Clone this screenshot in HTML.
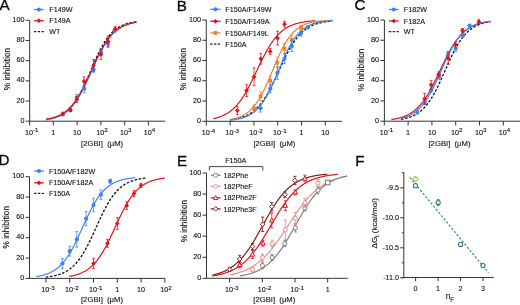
<!DOCTYPE html>
<html><head><meta charset="utf-8"><style>
html,body{margin:0;padding:0;background:#fff;}
svg{display:block;font-family:"Liberation Sans", sans-serif;}
svg{will-change:transform;}
text{stroke:#111;stroke-width:0.12px;}
</style></head><body>
<svg width="520" height="305" viewBox="0 0 520 305">
<rect width="520" height="305" fill="#fff"/>
<text x="-0.5" y="10.3" font-size="15.2" fill="#000" style="stroke-width:0.3">A</text>
<line x1="29.70" y1="20.30" x2="29.70" y2="121.20" stroke="#333" stroke-width="1" />
<line x1="25.70" y1="121.20" x2="29.70" y2="121.20" stroke="#333" stroke-width="1" />
<text x="24.40" y="122.80" font-size="7.2" text-anchor="end" fill="#111" >0</text>
<line x1="25.70" y1="101.02" x2="29.70" y2="101.02" stroke="#333" stroke-width="1" />
<text x="24.40" y="102.62" font-size="7.2" text-anchor="end" fill="#111" >20</text>
<line x1="25.70" y1="80.84" x2="29.70" y2="80.84" stroke="#333" stroke-width="1" />
<text x="24.40" y="82.44" font-size="7.2" text-anchor="end" fill="#111" >40</text>
<line x1="25.70" y1="60.66" x2="29.70" y2="60.66" stroke="#333" stroke-width="1" />
<text x="24.40" y="62.26" font-size="7.2" text-anchor="end" fill="#111" >60</text>
<line x1="25.70" y1="40.48" x2="29.70" y2="40.48" stroke="#333" stroke-width="1" />
<text x="24.40" y="42.08" font-size="7.2" text-anchor="end" fill="#111" >80</text>
<line x1="25.70" y1="20.30" x2="29.70" y2="20.30" stroke="#333" stroke-width="1" />
<text x="24.40" y="21.90" font-size="7.2" text-anchor="end" fill="#111" >100</text>
<line x1="29.70" y1="121.20" x2="165.20" y2="121.20" stroke="#333" stroke-width="1" />
<line x1="29.60" y1="121.20" x2="29.60" y2="125.40" stroke="#333" stroke-width="1" />
<text x="25.00" y="135.10" font-size="7.2" fill="#111">10<tspan font-size="6.2" dy="-2.7">-1</tspan></text>
<line x1="53.36" y1="121.20" x2="53.36" y2="125.40" stroke="#333" stroke-width="1" />
<text x="53.36" y="135.10" font-size="7.2" text-anchor="middle" fill="#111" >1</text>
<line x1="77.12" y1="121.20" x2="77.12" y2="125.40" stroke="#333" stroke-width="1" />
<text x="77.12" y="135.10" font-size="7.2" text-anchor="middle" fill="#111" >10</text>
<line x1="100.88" y1="121.20" x2="100.88" y2="125.40" stroke="#333" stroke-width="1" />
<text x="96.28" y="135.10" font-size="7.2" fill="#111">10<tspan font-size="6.2" dy="-2.7">2</tspan></text>
<line x1="124.64" y1="121.20" x2="124.64" y2="125.40" stroke="#333" stroke-width="1" />
<text x="120.04" y="135.10" font-size="7.2" fill="#111">10<tspan font-size="6.2" dy="-2.7">3</tspan></text>
<line x1="148.40" y1="121.20" x2="148.40" y2="125.40" stroke="#333" stroke-width="1" />
<text x="143.80" y="135.10" font-size="7.2" fill="#111">10<tspan font-size="6.2" dy="-2.7">4</tspan></text>
<text x="102.10" y="145.50" font-size="7.7" text-anchor="middle" fill="#111" >[2GBI]&#160;&#160;(μM)</text>
<text x="0" y="0" font-size="8.3" text-anchor="middle" fill="#111" transform="translate(9.90,69.00) rotate(-90)">% inhibition</text>
<line x1="33.90" y1="9.60" x2="43.80" y2="9.60" stroke="#3f82f0" stroke-width="1.25" />
<circle cx="38.85" cy="9.60" r="2.1" fill="#3f82f0" stroke="#3f82f0" stroke-width="0"/>
<text x="49.30" y="12.20" font-size="7.2" text-anchor="start" fill="#111" >F149W</text>
<line x1="33.90" y1="20.70" x2="43.80" y2="20.70" stroke="#e0121c" stroke-width="1.25" />
<path d="M38.85,18.35 L41.20,20.70 L38.85,23.05 L36.50,20.70Z" fill="#e0121c" stroke="#e0121c" stroke-width="0"/>
<text x="49.30" y="23.30" font-size="7.2" text-anchor="start" fill="#111" >F149A</text>
<line x1="33.90" y1="31.70" x2="43.80" y2="31.70" stroke="#222" stroke-width="1.2" stroke-dasharray="2.4,1.4"/>
<text x="49.30" y="34.30" font-size="7.2" text-anchor="start" fill="#111" >WT</text>
<path d="M46.00,119.64 L46.50,119.57 L47.00,119.49 L47.50,119.41 L48.00,119.33 L48.50,119.24 L49.00,119.15 L49.50,119.06 L50.00,118.96 L50.50,118.85 L51.00,118.74 L51.50,118.63 L52.00,118.51 L52.50,118.39 L53.00,118.26 L53.50,118.12 L54.00,117.98 L54.50,117.83 L55.00,117.67 L55.50,117.51 L56.00,117.34 L56.50,117.17 L57.00,116.98 L57.50,116.79 L58.00,116.59 L58.50,116.38 L59.00,116.17 L59.50,115.94 L60.00,115.70 L60.50,115.46 L61.00,115.20 L61.50,114.93 L62.00,114.65 L62.50,114.36 L63.00,114.06 L63.50,113.74 L64.00,113.42 L64.50,113.08 L65.00,112.72 L65.50,112.35 L66.00,111.97 L66.50,111.58 L67.00,111.16 L67.50,110.73 L68.00,110.29 L68.50,109.83 L69.00,109.35 L69.50,108.86 L70.00,108.35 L70.50,107.82 L71.00,107.27 L71.50,106.70 L72.00,106.11 L72.50,105.51 L73.00,104.88 L73.50,104.23 L74.00,103.57 L74.50,102.88 L75.00,102.17 L75.50,101.45 L76.00,100.70 L76.50,99.93 L77.00,99.14 L77.50,98.33 L78.00,97.49 L78.50,96.64 L79.00,95.77 L79.50,94.87 L80.00,93.96 L80.50,93.02 L81.00,92.07 L81.50,91.10 L82.00,90.11 L82.50,89.10 L83.00,88.07 L83.50,87.03 L84.00,85.97 L84.50,84.90 L85.00,83.81 L85.50,82.71 L86.00,81.60 L86.50,80.47 L87.00,79.34 L87.50,78.20 L88.00,77.05 L88.50,75.89 L89.00,74.73 L89.50,73.56 L90.00,72.39 L90.50,71.22 L91.00,70.05 L91.50,68.88 L92.00,67.71 L92.50,66.54 L93.00,65.38 L93.50,64.22 L94.00,63.07 L94.50,61.93 L95.00,60.80 L95.50,59.68 L96.00,58.57 L96.50,57.47 L97.00,56.39 L97.50,55.32 L98.00,54.26 L98.50,53.22 L99.00,52.20 L99.50,51.19 L100.00,50.21 L100.50,49.24 L101.00,48.29 L101.50,47.36 L102.00,46.45 L102.50,45.56 L103.00,44.69 L103.50,43.84 L104.00,43.01 L104.50,42.20 L105.00,41.42 L105.50,40.65 L106.00,39.91 L106.50,39.18 L107.00,38.48 L107.50,37.80 L108.00,37.14 L108.50,36.49 L109.00,35.87 L109.50,35.27 L110.00,34.69 L110.50,34.12 L111.00,33.58 L111.50,33.05 L112.00,32.54 L112.50,32.05 L113.00,31.58 L113.50,31.12 L114.00,30.68 L114.50,30.25 L115.00,29.84 L115.50,29.45 L116.00,29.07 L116.50,28.71 L117.00,28.35 L117.50,28.02 L118.00,27.69 L118.50,27.38 L119.00,27.08 L119.50,26.79 L120.00,26.51 L120.50,26.25 L121.00,25.99 L121.50,25.75 L122.00,25.52 L122.50,25.29 L123.00,25.07 L123.50,24.87 L124.00,24.67 L124.50,24.48 L125.00,24.30 L125.50,24.12 L126.00,23.95 L126.50,23.79 L127.00,23.64 L127.50,23.49 L128.00,23.35 L128.50,23.22 L129.00,23.09 L129.50,22.97 L130.00,22.85 L130.50,22.74 L131.00,22.63 L131.50,22.52 L132.00,22.43 L132.50,22.33 L133.00,22.24 L133.50,22.15 L134.00,22.07 L134.50,21.99 L135.00,21.92 L135.50,21.84 L136.00,21.77 L136.50,21.71" fill="none" stroke="#111" stroke-width="1.3" stroke-dasharray="2.6,1.6"/>
<path d="M46.00,119.52 L46.50,119.45 L47.00,119.37 L47.50,119.29 L48.00,119.20 L48.50,119.11 L49.00,119.02 L49.50,118.92 L50.00,118.82 L50.50,118.72 L51.00,118.61 L51.50,118.49 L52.00,118.37 L52.50,118.25 L53.00,118.11 L53.50,117.98 L54.00,117.84 L54.50,117.69 L55.00,117.53 L55.50,117.37 L56.00,117.21 L56.50,117.03 L57.00,116.85 L57.50,116.66 L58.00,116.46 L58.50,116.26 L59.00,116.05 L59.50,115.82 L60.00,115.59 L60.50,115.35 L61.00,115.10 L61.50,114.84 L62.00,114.57 L62.50,114.29 L63.00,114.00 L63.50,113.69 L64.00,113.38 L64.50,113.05 L65.00,112.71 L65.50,112.36 L66.00,111.99 L66.50,111.61 L67.00,111.22 L67.50,110.81 L68.00,110.39 L68.50,109.95 L69.00,109.50 L69.50,109.03 L70.00,108.54 L70.50,108.04 L71.00,107.52 L71.50,106.99 L72.00,106.44 L72.50,105.87 L73.00,105.28 L73.50,104.67 L74.00,104.05 L74.50,103.40 L75.00,102.74 L75.50,102.06 L76.00,101.36 L76.50,100.64 L77.00,99.90 L77.50,99.14 L78.00,98.37 L78.50,97.57 L79.00,96.75 L79.50,95.92 L80.00,95.07 L80.50,94.20 L81.00,93.31 L81.50,92.40 L82.00,91.47 L82.50,90.53 L83.00,89.57 L83.50,88.60 L84.00,87.60 L84.50,86.60 L85.00,85.58 L85.50,84.55 L86.00,83.50 L86.50,82.44 L87.00,81.37 L87.50,80.30 L88.00,79.21 L88.50,78.11 L89.00,77.01 L89.50,75.90 L90.00,74.79 L90.50,73.67 L91.00,72.55 L91.50,71.42 L92.00,70.30 L92.50,69.18 L93.00,68.06 L93.50,66.94 L94.00,65.82 L94.50,64.71 L95.00,63.61 L95.50,62.51 L96.00,61.42 L96.50,60.34 L97.00,59.27 L97.50,58.21 L98.00,57.16 L98.50,56.13 L99.00,55.10 L99.50,54.10 L100.00,53.10 L100.50,52.12 L101.00,51.16 L101.50,50.22 L102.00,49.29 L102.50,48.37 L103.00,47.48 L103.50,46.61 L104.00,45.75 L104.50,44.91 L105.00,44.09 L105.50,43.29 L106.00,42.51 L106.50,41.75 L107.00,41.01 L107.50,40.28 L108.00,39.58 L108.50,38.89 L109.00,38.23 L109.50,37.58 L110.00,36.95 L110.50,36.34 L111.00,35.75 L111.50,35.18 L112.00,34.62 L112.50,34.08 L113.00,33.56 L113.50,33.05 L114.00,32.57 L114.50,32.09 L115.00,31.64 L115.50,31.20 L116.00,30.77 L116.50,30.36 L117.00,29.97 L117.50,29.58 L118.00,29.21 L118.50,28.86 L119.00,28.52 L119.50,28.19 L120.00,27.87 L120.50,27.56 L121.00,27.27 L121.50,26.98 L122.00,26.71 L122.50,26.45 L123.00,26.20 L123.50,25.96 L124.00,25.72 L124.50,25.50 L125.00,25.28 L125.50,25.08 L126.00,24.88 L126.50,24.69 L127.00,24.50 L127.50,24.33 L128.00,24.16 L128.50,24.00 L129.00,23.84 L129.50,23.69 L130.00,23.55 L130.50,23.41 L131.00,23.28 L131.50,23.15 L132.00,23.03 L132.50,22.92 L133.00,22.81 L133.50,22.70 L134.00,22.60 L134.50,22.50 L135.00,22.41 L135.50,22.32 L136.00,22.23 L136.50,22.15" fill="none" stroke="#3f82f0" stroke-width="1.2" />
<path d="M46.00,119.27 L46.50,119.19 L47.00,119.10 L47.50,119.01 L48.00,118.91 L48.50,118.82 L49.00,118.71 L49.50,118.60 L50.00,118.49 L50.50,118.37 L51.00,118.25 L51.50,118.12 L52.00,117.99 L52.50,117.85 L53.00,117.71 L53.50,117.56 L54.00,117.40 L54.50,117.24 L55.00,117.07 L55.50,116.90 L56.00,116.71 L56.50,116.52 L57.00,116.32 L57.50,116.12 L58.00,115.90 L58.50,115.68 L59.00,115.45 L59.50,115.21 L60.00,114.96 L60.50,114.70 L61.00,114.43 L61.50,114.15 L62.00,113.86 L62.50,113.55 L63.00,113.24 L63.50,112.91 L64.00,112.58 L64.50,112.23 L65.00,111.86 L65.50,111.49 L66.00,111.10 L66.50,110.70 L67.00,110.28 L67.50,109.85 L68.00,109.40 L68.50,108.94 L69.00,108.46 L69.50,107.97 L70.00,107.46 L70.50,106.94 L71.00,106.39 L71.50,105.83 L72.00,105.26 L72.50,104.66 L73.00,104.05 L73.50,103.42 L74.00,102.78 L74.50,102.11 L75.00,101.43 L75.50,100.73 L76.00,100.01 L76.50,99.27 L77.00,98.51 L77.50,97.73 L78.00,96.94 L78.50,96.13 L79.00,95.30 L79.50,94.45 L80.00,93.59 L80.50,92.70 L81.00,91.80 L81.50,90.89 L82.00,89.96 L82.50,89.01 L83.00,88.05 L83.50,87.07 L84.00,86.08 L84.50,85.07 L85.00,84.06 L85.50,83.03 L86.00,81.99 L86.50,80.94 L87.00,79.88 L87.50,78.81 L88.00,77.74 L88.50,76.66 L89.00,75.57 L89.50,74.48 L90.00,73.39 L90.50,72.29 L91.00,71.19 L91.50,70.09 L92.00,68.99 L92.50,67.90 L93.00,66.80 L93.50,65.71 L94.00,64.63 L94.50,63.55 L95.00,62.47 L95.50,61.41 L96.00,60.35 L96.50,59.30 L97.00,58.26 L97.50,57.24 L98.00,56.22 L98.50,55.22 L99.00,54.23 L99.50,53.26 L100.00,52.30 L100.50,51.36 L101.00,50.43 L101.50,49.51 L102.00,48.62 L102.50,47.74 L103.00,46.88 L103.50,46.03 L104.00,45.21 L104.50,44.40 L105.00,43.61 L105.50,42.84 L106.00,42.08 L106.50,41.35 L107.00,40.63 L107.50,39.93 L108.00,39.25 L108.50,38.59 L109.00,37.95 L109.50,37.32 L110.00,36.72 L110.50,36.13 L111.00,35.55 L111.50,35.00 L112.00,34.46 L112.50,33.94 L113.00,33.43 L113.50,32.94 L114.00,32.47 L114.50,32.01 L115.00,31.56 L115.50,31.14 L116.00,30.72 L116.50,30.32 L117.00,29.94 L117.50,29.56 L118.00,29.20 L118.50,28.85 L119.00,28.52 L119.50,28.20 L120.00,27.89 L120.50,27.59 L121.00,27.30 L121.50,27.02 L122.00,26.75 L122.50,26.49 L123.00,26.24 L123.50,26.00 L124.00,25.77 L124.50,25.55 L125.00,25.34 L125.50,25.14 L126.00,24.94 L126.50,24.75 L127.00,24.57 L127.50,24.39 L128.00,24.23 L128.50,24.06 L129.00,23.91 L129.50,23.76 L130.00,23.62 L130.50,23.48 L131.00,23.35 L131.50,23.22 L132.00,23.10 L132.50,22.99 L133.00,22.87 L133.50,22.77 L134.00,22.66 L134.50,22.57 L135.00,22.47 L135.50,22.38 L136.00,22.29 L136.50,22.21" fill="none" stroke="#e0121c" stroke-width="1.2" />
<line x1="62.80" y1="113.50" x2="62.80" y2="115.50" stroke="#3f82f0" stroke-width="0.8" />
<line x1="61.40" y1="113.50" x2="64.20" y2="113.50" stroke="#3f82f0" stroke-width="0.8" />
<line x1="61.40" y1="115.50" x2="64.20" y2="115.50" stroke="#3f82f0" stroke-width="0.8" />
<circle cx="62.80" cy="114.50" r="2.1" fill="#3f82f0" stroke="#3f82f0" stroke-width="0"/>
<line x1="70.40" y1="109.50" x2="70.40" y2="111.50" stroke="#3f82f0" stroke-width="0.8" />
<line x1="69.00" y1="109.50" x2="71.80" y2="109.50" stroke="#3f82f0" stroke-width="0.8" />
<line x1="69.00" y1="111.50" x2="71.80" y2="111.50" stroke="#3f82f0" stroke-width="0.8" />
<circle cx="70.40" cy="110.50" r="2.1" fill="#3f82f0" stroke="#3f82f0" stroke-width="0"/>
<line x1="76.80" y1="94.50" x2="76.80" y2="100.50" stroke="#3f82f0" stroke-width="0.8" />
<line x1="75.40" y1="94.50" x2="78.20" y2="94.50" stroke="#3f82f0" stroke-width="0.8" />
<line x1="75.40" y1="100.50" x2="78.20" y2="100.50" stroke="#3f82f0" stroke-width="0.8" />
<circle cx="76.80" cy="97.50" r="2.1" fill="#3f82f0" stroke="#3f82f0" stroke-width="0"/>
<line x1="84.30" y1="84.70" x2="84.30" y2="92.70" stroke="#3f82f0" stroke-width="0.8" />
<line x1="82.90" y1="84.70" x2="85.70" y2="84.70" stroke="#3f82f0" stroke-width="0.8" />
<line x1="82.90" y1="92.70" x2="85.70" y2="92.70" stroke="#3f82f0" stroke-width="0.8" />
<circle cx="84.30" cy="88.70" r="2.1" fill="#3f82f0" stroke="#3f82f0" stroke-width="0"/>
<line x1="93.50" y1="66.30" x2="93.50" y2="72.30" stroke="#3f82f0" stroke-width="0.8" />
<line x1="92.10" y1="66.30" x2="94.90" y2="66.30" stroke="#3f82f0" stroke-width="0.8" />
<line x1="92.10" y1="72.30" x2="94.90" y2="72.30" stroke="#3f82f0" stroke-width="0.8" />
<circle cx="93.50" cy="69.30" r="2.1" fill="#3f82f0" stroke="#3f82f0" stroke-width="0"/>
<line x1="101.00" y1="49.20" x2="101.00" y2="55.20" stroke="#3f82f0" stroke-width="0.8" />
<line x1="99.60" y1="49.20" x2="102.40" y2="49.20" stroke="#3f82f0" stroke-width="0.8" />
<line x1="99.60" y1="55.20" x2="102.40" y2="55.20" stroke="#3f82f0" stroke-width="0.8" />
<circle cx="101.00" cy="52.20" r="2.1" fill="#3f82f0" stroke="#3f82f0" stroke-width="0"/>
<line x1="108.00" y1="40.70" x2="108.00" y2="46.70" stroke="#3f82f0" stroke-width="0.8" />
<line x1="106.60" y1="40.70" x2="109.40" y2="40.70" stroke="#3f82f0" stroke-width="0.8" />
<line x1="106.60" y1="46.70" x2="109.40" y2="46.70" stroke="#3f82f0" stroke-width="0.8" />
<circle cx="108.00" cy="43.70" r="2.1" fill="#3f82f0" stroke="#3f82f0" stroke-width="0"/>
<line x1="114.40" y1="29.50" x2="114.40" y2="32.50" stroke="#3f82f0" stroke-width="0.8" />
<line x1="113.00" y1="29.50" x2="115.80" y2="29.50" stroke="#3f82f0" stroke-width="0.8" />
<line x1="113.00" y1="32.50" x2="115.80" y2="32.50" stroke="#3f82f0" stroke-width="0.8" />
<circle cx="114.40" cy="31.00" r="2.1" fill="#3f82f0" stroke="#3f82f0" stroke-width="0"/>
<line x1="62.80" y1="112.30" x2="62.80" y2="115.30" stroke="#e0121c" stroke-width="0.8" />
<line x1="61.40" y1="112.30" x2="64.20" y2="112.30" stroke="#e0121c" stroke-width="0.8" />
<line x1="61.40" y1="115.30" x2="64.20" y2="115.30" stroke="#e0121c" stroke-width="0.8" />
<path d="M62.80,111.45 L65.15,113.80 L62.80,116.15 L60.45,113.80Z" fill="#e0121c" stroke="#e0121c" stroke-width="0"/>
<line x1="70.40" y1="108.50" x2="70.40" y2="111.50" stroke="#e0121c" stroke-width="0.8" />
<line x1="69.00" y1="108.50" x2="71.80" y2="108.50" stroke="#e0121c" stroke-width="0.8" />
<line x1="69.00" y1="111.50" x2="71.80" y2="111.50" stroke="#e0121c" stroke-width="0.8" />
<path d="M70.40,107.65 L72.75,110.00 L70.40,112.35 L68.05,110.00Z" fill="#e0121c" stroke="#e0121c" stroke-width="0"/>
<line x1="76.80" y1="96.40" x2="76.80" y2="102.40" stroke="#e0121c" stroke-width="0.8" />
<line x1="75.40" y1="96.40" x2="78.20" y2="96.40" stroke="#e0121c" stroke-width="0.8" />
<line x1="75.40" y1="102.40" x2="78.20" y2="102.40" stroke="#e0121c" stroke-width="0.8" />
<path d="M76.80,97.05 L79.15,99.40 L76.80,101.75 L74.45,99.40Z" fill="#e0121c" stroke="#e0121c" stroke-width="0"/>
<line x1="84.00" y1="76.80" x2="84.00" y2="85.80" stroke="#e0121c" stroke-width="0.8" />
<line x1="82.60" y1="76.80" x2="85.40" y2="76.80" stroke="#e0121c" stroke-width="0.8" />
<line x1="82.60" y1="85.80" x2="85.40" y2="85.80" stroke="#e0121c" stroke-width="0.8" />
<path d="M84.00,78.95 L86.35,81.30 L84.00,83.65 L81.65,81.30Z" fill="#e0121c" stroke="#e0121c" stroke-width="0"/>
<line x1="93.50" y1="59.40" x2="93.50" y2="71.40" stroke="#e0121c" stroke-width="0.8" />
<line x1="92.10" y1="59.40" x2="94.90" y2="59.40" stroke="#e0121c" stroke-width="0.8" />
<line x1="92.10" y1="71.40" x2="94.90" y2="71.40" stroke="#e0121c" stroke-width="0.8" />
<path d="M93.50,63.05 L95.85,65.40 L93.50,67.75 L91.15,65.40Z" fill="#e0121c" stroke="#e0121c" stroke-width="0"/>
<line x1="101.00" y1="49.40" x2="101.00" y2="59.40" stroke="#e0121c" stroke-width="0.8" />
<line x1="99.60" y1="49.40" x2="102.40" y2="49.40" stroke="#e0121c" stroke-width="0.8" />
<line x1="99.60" y1="59.40" x2="102.40" y2="59.40" stroke="#e0121c" stroke-width="0.8" />
<path d="M101.00,52.05 L103.35,54.40 L101.00,56.75 L98.65,54.40Z" fill="#e0121c" stroke="#e0121c" stroke-width="0"/>
<line x1="108.00" y1="36.10" x2="108.00" y2="47.10" stroke="#e0121c" stroke-width="0.8" />
<line x1="106.60" y1="36.10" x2="109.40" y2="36.10" stroke="#e0121c" stroke-width="0.8" />
<line x1="106.60" y1="47.10" x2="109.40" y2="47.10" stroke="#e0121c" stroke-width="0.8" />
<path d="M108.00,39.25 L110.35,41.60 L108.00,43.95 L105.65,41.60Z" fill="#e0121c" stroke="#e0121c" stroke-width="0"/>
<line x1="115.20" y1="26.80" x2="115.20" y2="30.80" stroke="#e0121c" stroke-width="0.8" />
<line x1="113.80" y1="26.80" x2="116.60" y2="26.80" stroke="#e0121c" stroke-width="0.8" />
<line x1="113.80" y1="30.80" x2="116.60" y2="30.80" stroke="#e0121c" stroke-width="0.8" />
<path d="M115.20,26.45 L117.55,28.80 L115.20,31.15 L112.85,28.80Z" fill="#e0121c" stroke="#e0121c" stroke-width="0"/>
<text x="176.7" y="10.6" font-size="15.2" fill="#000" style="stroke-width:0.3">B</text>
<line x1="206.30" y1="20.00" x2="206.30" y2="121.30" stroke="#333" stroke-width="1" />
<line x1="202.30" y1="121.30" x2="206.30" y2="121.30" stroke="#333" stroke-width="1" />
<text x="201.00" y="122.90" font-size="7.2" text-anchor="end" fill="#111" >0</text>
<line x1="202.30" y1="101.04" x2="206.30" y2="101.04" stroke="#333" stroke-width="1" />
<text x="201.00" y="102.64" font-size="7.2" text-anchor="end" fill="#111" >20</text>
<line x1="202.30" y1="80.78" x2="206.30" y2="80.78" stroke="#333" stroke-width="1" />
<text x="201.00" y="82.38" font-size="7.2" text-anchor="end" fill="#111" >40</text>
<line x1="202.30" y1="60.52" x2="206.30" y2="60.52" stroke="#333" stroke-width="1" />
<text x="201.00" y="62.12" font-size="7.2" text-anchor="end" fill="#111" >60</text>
<line x1="202.30" y1="40.26" x2="206.30" y2="40.26" stroke="#333" stroke-width="1" />
<text x="201.00" y="41.86" font-size="7.2" text-anchor="end" fill="#111" >80</text>
<line x1="202.30" y1="20.00" x2="206.30" y2="20.00" stroke="#333" stroke-width="1" />
<text x="201.00" y="21.60" font-size="7.2" text-anchor="end" fill="#111" >100</text>
<line x1="206.30" y1="121.30" x2="342.00" y2="121.30" stroke="#333" stroke-width="1" />
<line x1="206.30" y1="121.30" x2="206.30" y2="125.50" stroke="#333" stroke-width="1" />
<text x="201.70" y="135.20" font-size="7.2" fill="#111">10<tspan font-size="6.2" dy="-2.7">-4</tspan></text>
<line x1="230.10" y1="121.30" x2="230.10" y2="125.50" stroke="#333" stroke-width="1" />
<text x="225.50" y="135.20" font-size="7.2" fill="#111">10<tspan font-size="6.2" dy="-2.7">-3</tspan></text>
<line x1="253.90" y1="121.30" x2="253.90" y2="125.50" stroke="#333" stroke-width="1" />
<text x="249.30" y="135.20" font-size="7.2" fill="#111">10<tspan font-size="6.2" dy="-2.7">-2</tspan></text>
<line x1="277.70" y1="121.30" x2="277.70" y2="125.50" stroke="#333" stroke-width="1" />
<text x="273.10" y="135.20" font-size="7.2" fill="#111">10<tspan font-size="6.2" dy="-2.7">-1</tspan></text>
<line x1="301.50" y1="121.30" x2="301.50" y2="125.50" stroke="#333" stroke-width="1" />
<text x="301.50" y="135.20" font-size="7.2" text-anchor="middle" fill="#111" >1</text>
<line x1="325.30" y1="121.30" x2="325.30" y2="125.50" stroke="#333" stroke-width="1" />
<text x="325.30" y="135.20" font-size="7.2" text-anchor="middle" fill="#111" >10</text>
<text x="274.40" y="145.50" font-size="7.7" text-anchor="middle" fill="#111" >[2GBI]&#160;&#160;(μM)</text>
<text x="0" y="0" font-size="8.3" text-anchor="middle" fill="#111" transform="translate(185.80,69.00) rotate(-90)">% inhibition</text>
<line x1="210.20" y1="9.30" x2="220.60" y2="9.30" stroke="#3f82f0" stroke-width="1.25" />
<circle cx="215.40" cy="9.30" r="2.1" fill="#3f82f0" stroke="#3f82f0" stroke-width="0"/>
<text x="225.30" y="11.90" font-size="7.2" text-anchor="start" fill="#111" >F150A/F149W</text>
<line x1="210.20" y1="21.30" x2="220.60" y2="21.30" stroke="#e0121c" stroke-width="1.25" />
<path d="M215.40,18.95 L217.75,21.30 L215.40,23.65 L213.05,21.30Z" fill="#e0121c" stroke="#e0121c" stroke-width="0"/>
<text x="225.30" y="23.90" font-size="7.2" text-anchor="start" fill="#111" >F150A/F149A</text>
<line x1="210.20" y1="32.90" x2="220.60" y2="32.90" stroke="#e8862e" stroke-width="1.25" />
<rect x="213.51" y="31.01" width="3.78" height="3.78" fill="#e8862e" stroke="#e8862e" stroke-width="0"/>
<text x="225.30" y="35.50" font-size="7.2" text-anchor="start" fill="#111" >F150A/F149L</text>
<line x1="210.20" y1="44.20" x2="220.60" y2="44.20" stroke="#222" stroke-width="1.2" stroke-dasharray="2.4,1.4"/>
<text x="225.30" y="46.80" font-size="7.2" text-anchor="start" fill="#111" >F150A</text>
<path d="M213.40,118.63 L213.90,118.52 L214.40,118.41 L214.90,118.29 L215.40,118.17 L215.90,118.04 L216.40,117.90 L216.90,117.76 L217.40,117.62 L217.90,117.47 L218.40,117.31 L218.90,117.15 L219.40,116.98 L219.90,116.81 L220.40,116.62 L220.90,116.44 L221.40,116.24 L221.90,116.04 L222.40,115.82 L222.90,115.60 L223.40,115.38 L223.90,115.14 L224.40,114.90 L224.90,114.64 L225.40,114.38 L225.90,114.10 L226.40,113.82 L226.90,113.53 L227.40,113.22 L227.90,112.91 L228.40,112.58 L228.90,112.25 L229.40,111.90 L229.90,111.54 L230.40,111.16 L230.90,110.78 L231.40,110.38 L231.90,109.97 L232.40,109.54 L232.90,109.10 L233.40,108.65 L233.90,108.18 L234.40,107.70 L234.90,107.20 L235.40,106.69 L235.90,106.16 L236.40,105.62 L236.90,105.06 L237.40,104.48 L237.90,103.89 L238.40,103.28 L238.90,102.66 L239.40,102.02 L239.90,101.36 L240.40,100.68 L240.90,99.99 L241.40,99.28 L241.90,98.56 L242.40,97.82 L242.90,97.06 L243.40,96.28 L243.90,95.49 L244.40,94.68 L244.90,93.86 L245.40,93.02 L245.90,92.16 L246.40,91.29 L246.90,90.41 L247.40,89.51 L247.90,88.59 L248.40,87.66 L248.90,86.72 L249.40,85.77 L249.90,84.80 L250.40,83.83 L250.90,82.84 L251.40,81.84 L251.90,80.83 L252.40,79.82 L252.90,78.80 L253.40,77.77 L253.90,76.73 L254.40,75.69 L254.90,74.65 L255.40,73.60 L255.90,72.55 L256.40,71.49 L256.90,70.44 L257.40,69.39 L257.90,68.33 L258.40,67.28 L258.90,66.24 L259.40,65.19 L259.90,64.15 L260.40,63.12 L260.90,62.09 L261.40,61.07 L261.90,60.06 L262.40,59.06 L262.90,58.07 L263.40,57.08 L263.90,56.11 L264.40,55.15 L264.90,54.20 L265.40,53.26 L265.90,52.34 L266.40,51.43 L266.90,50.54 L267.40,49.66 L267.90,48.79 L268.40,47.94 L268.90,47.11 L269.40,46.29 L269.90,45.49 L270.40,44.70 L270.90,43.94 L271.40,43.18 L271.90,42.45 L272.40,41.73 L272.90,41.03 L273.40,40.34 L273.90,39.68 L274.40,39.02 L274.90,38.39 L275.40,37.77 L275.90,37.17 L276.40,36.59 L276.90,36.02 L277.40,35.46 L277.90,34.93 L278.40,34.40 L278.90,33.90 L279.40,33.41 L279.90,32.93 L280.40,32.47 L280.90,32.02 L281.40,31.59 L281.90,31.17 L282.40,30.76 L282.90,30.37 L283.40,29.99 L283.90,29.62 L284.40,29.26 L284.90,28.92 L285.40,28.58 L285.90,28.26 L286.40,27.95 L286.90,27.65 L287.40,27.36 L287.90,27.08 L288.40,26.82 L288.90,26.56 L289.40,26.31 L289.90,26.06 L290.40,25.83 L290.90,25.61 L291.40,25.39 L291.90,25.18 L292.40,24.98 L292.90,24.79 L293.40,24.60 L293.90,24.42 L294.40,24.25 L294.90,24.08 L295.40,23.92 L295.90,23.77 L296.40,23.62 L296.90,23.48 L297.40,23.34 L297.90,23.21 L298.40,23.08 L298.90,22.96 L299.40,22.84 L299.90,22.73 L300.40,22.62 L300.90,22.52 L301.40,22.42 L301.90,22.32 L302.40,22.23 L302.90,22.14 L303.40,22.06 L303.90,21.97 L304.40,21.89 L304.90,21.82 L305.40,21.75 L305.90,21.68 L306.40,21.61 L306.90,21.54 L307.40,21.48 L307.90,21.42 L308.40,21.37 L308.90,21.31 L309.40,21.26 L309.90,21.21 L310.40,21.16 L310.90,21.11 L311.40,21.07 L311.90,21.02 L312.40,20.98 L312.90,20.94 L313.40,20.90 L313.90,20.87 L314.40,20.83 L314.90,20.80 L315.40,20.77" fill="none" stroke="#e0121c" stroke-width="1.2" />
<path d="M230.00,119.83 L230.50,119.77 L231.00,119.70 L231.50,119.63 L232.00,119.56 L232.50,119.48 L233.00,119.41 L233.50,119.32 L234.00,119.24 L234.50,119.15 L235.00,119.06 L235.50,118.96 L236.00,118.86 L236.50,118.76 L237.00,118.65 L237.50,118.53 L238.00,118.42 L238.50,118.29 L239.00,118.17 L239.50,118.03 L240.00,117.89 L240.50,117.75 L241.00,117.60 L241.50,117.44 L242.00,117.28 L242.50,117.11 L243.00,116.93 L243.50,116.75 L244.00,116.56 L244.50,116.36 L245.00,116.15 L245.50,115.94 L246.00,115.72 L246.50,115.48 L247.00,115.24 L247.50,114.99 L248.00,114.73 L248.50,114.47 L249.00,114.19 L249.50,113.90 L250.00,113.59 L250.50,113.28 L251.00,112.96 L251.50,112.62 L252.00,112.28 L252.50,111.92 L253.00,111.54 L253.50,111.16 L254.00,110.76 L254.50,110.34 L255.00,109.91 L255.50,109.47 L256.00,109.01 L256.50,108.54 L257.00,108.05 L257.50,107.55 L258.00,107.03 L258.50,106.50 L259.00,105.94 L259.50,105.37 L260.00,104.79 L260.50,104.18 L261.00,103.56 L261.50,102.92 L262.00,102.27 L262.50,101.59 L263.00,100.90 L263.50,100.19 L264.00,99.46 L264.50,98.71 L265.00,97.95 L265.50,97.17 L266.00,96.37 L266.50,95.55 L267.00,94.71 L267.50,93.86 L268.00,92.99 L268.50,92.10 L269.00,91.20 L269.50,90.28 L270.00,89.35 L270.50,88.40 L271.00,87.44 L271.50,86.46 L272.00,85.47 L272.50,84.47 L273.00,83.45 L273.50,82.42 L274.00,81.39 L274.50,80.34 L275.00,79.29 L275.50,78.22 L276.00,77.16 L276.50,76.08 L277.00,75.00 L277.50,73.92 L278.00,72.83 L278.50,71.74 L279.00,70.65 L279.50,69.56 L280.00,68.47 L280.50,67.38 L281.00,66.30 L281.50,65.22 L282.00,64.14 L282.50,63.08 L283.00,62.01 L283.50,60.96 L284.00,59.91 L284.50,58.88 L285.00,57.85 L285.50,56.83 L286.00,55.83 L286.50,54.84 L287.00,53.86 L287.50,52.90 L288.00,51.95 L288.50,51.02 L289.00,50.10 L289.50,49.20 L290.00,48.31 L290.50,47.44 L291.00,46.59 L291.50,45.75 L292.00,44.93 L292.50,44.13 L293.00,43.35 L293.50,42.59 L294.00,41.84 L294.50,41.11 L295.00,40.40 L295.50,39.71 L296.00,39.03 L296.50,38.38 L297.00,37.74 L297.50,37.12 L298.00,36.51 L298.50,35.93 L299.00,35.36 L299.50,34.80 L300.00,34.27 L300.50,33.75 L301.00,33.25 L301.50,32.76 L302.00,32.29 L302.50,31.83 L303.00,31.39 L303.50,30.96 L304.00,30.54 L304.50,30.14 L305.00,29.76 L305.50,29.38 L306.00,29.02 L306.50,28.68 L307.00,28.34 L307.50,28.02 L308.00,27.71 L308.50,27.40 L309.00,27.11 L309.50,26.83 L310.00,26.57 L310.50,26.31 L311.00,26.06 L311.50,25.82 L312.00,25.58 L312.50,25.36 L313.00,25.15 L313.50,24.94 L314.00,24.74 L314.50,24.55 L315.00,24.37 L315.50,24.19 L316.00,24.02 L316.50,23.86 L317.00,23.70 L317.50,23.55 L318.00,23.41 L318.50,23.27 L319.00,23.13 L319.50,23.01 L320.00,22.88 L320.50,22.77 L321.00,22.65 L321.50,22.54 L322.00,22.44 L322.50,22.34 L323.00,22.24 L323.50,22.15 L324.00,22.06 L324.50,21.98 L325.00,21.89 L325.50,21.82 L326.00,21.74 L326.50,21.67 L327.00,21.60 L327.50,21.53 L328.00,21.47 L328.50,21.41 L329.00,21.35 L329.50,21.29 L330.00,21.24 L330.50,21.19 L331.00,21.14 L331.50,21.09 L332.00,21.05 L332.50,21.00" fill="none" stroke="#111" stroke-width="1.3" stroke-dasharray="2.6,1.6"/>
<path d="M230.20,119.50 L230.70,119.41 L231.20,119.32 L231.70,119.23 L232.20,119.13 L232.70,119.03 L233.20,118.92 L233.70,118.80 L234.20,118.69 L234.70,118.56 L235.20,118.43 L235.70,118.30 L236.20,118.16 L236.70,118.01 L237.20,117.86 L237.70,117.69 L238.20,117.53 L238.70,117.35 L239.20,117.17 L239.70,116.97 L240.20,116.77 L240.70,116.56 L241.20,116.35 L241.70,116.12 L242.20,115.88 L242.70,115.63 L243.20,115.37 L243.70,115.10 L244.20,114.82 L244.70,114.53 L245.20,114.22 L245.70,113.90 L246.20,113.57 L246.70,113.22 L247.20,112.86 L247.70,112.49 L248.20,112.10 L248.70,111.70 L249.20,111.28 L249.70,110.84 L250.20,110.39 L250.70,109.92 L251.20,109.43 L251.70,108.92 L252.20,108.40 L252.70,107.86 L253.20,107.29 L253.70,106.71 L254.20,106.11 L254.70,105.49 L255.20,104.85 L255.70,104.18 L256.20,103.50 L256.70,102.79 L257.20,102.06 L257.70,101.31 L258.20,100.54 L258.70,99.75 L259.20,98.93 L259.70,98.10 L260.20,97.24 L260.70,96.36 L261.20,95.45 L261.70,94.53 L262.20,93.59 L262.70,92.62 L263.20,91.64 L263.70,90.63 L264.20,89.61 L264.70,88.57 L265.20,87.51 L265.70,86.43 L266.20,85.34 L266.70,84.24 L267.20,83.11 L267.70,81.98 L268.20,80.83 L268.70,79.68 L269.20,78.51 L269.70,77.33 L270.20,76.15 L270.70,74.96 L271.20,73.77 L271.70,72.57 L272.20,71.37 L272.70,70.17 L273.20,68.97 L273.70,67.77 L274.20,66.58 L274.70,65.39 L275.20,64.20 L275.70,63.02 L276.20,61.86 L276.70,60.70 L277.20,59.55 L277.70,58.41 L278.20,57.29 L278.70,56.18 L279.20,55.08 L279.70,54.00 L280.20,52.94 L280.70,51.90 L281.20,50.87 L281.70,49.86 L282.20,48.87 L282.70,47.90 L283.20,46.96 L283.70,46.03 L284.20,45.12 L284.70,44.24 L285.20,43.37 L285.70,42.53 L286.20,41.71 L286.70,40.92 L287.20,40.14 L287.70,39.39 L288.20,38.65 L288.70,37.94 L289.20,37.25 L289.70,36.59 L290.20,35.94 L290.70,35.31 L291.20,34.71 L291.70,34.12 L292.20,33.55 L292.70,33.01 L293.20,32.48 L293.70,31.97 L294.20,31.48 L294.70,31.00 L295.20,30.55 L295.70,30.11 L296.20,29.68 L296.70,29.28 L297.20,28.89 L297.70,28.51 L298.20,28.15 L298.70,27.80 L299.20,27.46 L299.70,27.14 L300.20,26.83 L300.70,26.54 L301.20,26.25 L301.70,25.98 L302.20,25.72 L302.70,25.47 L303.20,25.23 L303.70,25.00 L304.20,24.78 L304.70,24.57 L305.20,24.37 L305.70,24.17 L306.20,23.99 L306.70,23.81 L307.20,23.64 L307.70,23.48 L308.20,23.32 L308.70,23.17 L309.20,23.03 L309.70,22.89 L310.20,22.76 L310.70,22.64 L311.20,22.52 L311.70,22.40 L312.20,22.30 L312.70,22.19 L313.20,22.09 L313.70,22.00 L314.20,21.91 L314.70,21.82 L315.20,21.74 L315.70,21.66 L316.20,21.58 L316.70,21.51 L317.20,21.44 L317.70,21.38 L318.20,21.31 L318.70,21.25 L319.20,21.20 L319.70,21.14 L320.20,21.09 L320.70,21.04 L321.20,20.99 L321.70,20.95 L322.20,20.90 L322.70,20.86 L323.20,20.82 L323.70,20.78 L324.20,20.75 L324.70,20.71 L325.20,20.68 L325.70,20.65 L326.20,20.62 L326.70,20.59 L327.20,20.56 L327.70,20.54 L328.20,20.51 L328.70,20.49 L329.20,20.47 L329.70,20.45 L330.20,20.42 L330.70,20.40 L331.20,20.39 L331.70,20.37 L332.20,20.35" fill="none" stroke="#e8862e" stroke-width="1.2" />
<path d="M230.00,120.24 L230.50,120.19 L231.00,120.14 L231.50,120.08 L232.00,120.03 L232.50,119.97 L233.00,119.90 L233.50,119.84 L234.00,119.77 L234.50,119.70 L235.00,119.62 L235.50,119.54 L236.00,119.46 L236.50,119.37 L237.00,119.28 L237.50,119.18 L238.00,119.08 L238.50,118.98 L239.00,118.87 L239.50,118.76 L240.00,118.64 L240.50,118.52 L241.00,118.39 L241.50,118.25 L242.00,118.11 L242.50,117.96 L243.00,117.80 L243.50,117.64 L244.00,117.47 L244.50,117.30 L245.00,117.11 L245.50,116.92 L246.00,116.72 L246.50,116.51 L247.00,116.29 L247.50,116.06 L248.00,115.82 L248.50,115.58 L249.00,115.32 L249.50,115.05 L250.00,114.77 L250.50,114.47 L251.00,114.17 L251.50,113.85 L252.00,113.52 L252.50,113.18 L253.00,112.82 L253.50,112.45 L254.00,112.06 L254.50,111.66 L255.00,111.24 L255.50,110.81 L256.00,110.36 L256.50,109.89 L257.00,109.41 L257.50,108.91 L258.00,108.39 L258.50,107.85 L259.00,107.30 L259.50,106.72 L260.00,106.12 L260.50,105.51 L261.00,104.87 L261.50,104.22 L262.00,103.54 L262.50,102.84 L263.00,102.12 L263.50,101.38 L264.00,100.62 L264.50,99.84 L265.00,99.04 L265.50,98.21 L266.00,97.36 L266.50,96.49 L267.00,95.60 L267.50,94.69 L268.00,93.76 L268.50,92.81 L269.00,91.84 L269.50,90.85 L270.00,89.84 L270.50,88.82 L271.00,87.77 L271.50,86.71 L272.00,85.64 L272.50,84.54 L273.00,83.44 L273.50,82.32 L274.00,81.19 L274.50,80.05 L275.00,78.89 L275.50,77.73 L276.00,76.56 L276.50,75.39 L277.00,74.21 L277.50,73.02 L278.00,71.84 L278.50,70.65 L279.00,69.46 L279.50,68.28 L280.00,67.09 L280.50,65.91 L281.00,64.74 L281.50,63.57 L282.00,62.41 L282.50,61.25 L283.00,60.11 L283.50,58.98 L284.00,57.86 L284.50,56.76 L285.00,55.66 L285.50,54.59 L286.00,53.53 L286.50,52.48 L287.00,51.46 L287.50,50.45 L288.00,49.46 L288.50,48.49 L289.00,47.54 L289.50,46.61 L290.00,45.70 L290.50,44.81 L291.00,43.94 L291.50,43.09 L292.00,42.26 L292.50,41.46 L293.00,40.68 L293.50,39.92 L294.00,39.18 L294.50,38.46 L295.00,37.76 L295.50,37.08 L296.00,36.43 L296.50,35.79 L297.00,35.18 L297.50,34.58 L298.00,34.00 L298.50,33.45 L299.00,32.91 L299.50,32.39 L300.00,31.89 L300.50,31.41 L301.00,30.94 L301.50,30.49 L302.00,30.06 L302.50,29.64 L303.00,29.24 L303.50,28.85 L304.00,28.48 L304.50,28.12 L305.00,27.78 L305.50,27.45 L306.00,27.13 L306.50,26.83 L307.00,26.53 L307.50,26.25 L308.00,25.98 L308.50,25.72 L309.00,25.48 L309.50,25.24 L310.00,25.01 L310.50,24.79 L311.00,24.58 L311.50,24.38 L312.00,24.19 L312.50,24.00 L313.00,23.83 L313.50,23.66 L314.00,23.50 L314.50,23.34 L315.00,23.19 L315.50,23.05 L316.00,22.91 L316.50,22.78 L317.00,22.66 L317.50,22.54 L318.00,22.43 L318.50,22.32 L319.00,22.22 L319.50,22.12 L320.00,22.02 L320.50,21.93 L321.00,21.84 L321.50,21.76 L322.00,21.68 L322.50,21.60 L323.00,21.53 L323.50,21.46 L324.00,21.40 L324.50,21.33 L325.00,21.27 L325.50,21.22 L326.00,21.16 L326.50,21.11 L327.00,21.06 L327.50,21.01 L328.00,20.96 L328.50,20.92 L329.00,20.88 L329.50,20.84 L330.00,20.80 L330.50,20.76 L331.00,20.73 L331.50,20.70 L332.00,20.66 L332.50,20.63" fill="none" stroke="#3f82f0" stroke-width="1.2" />
<line x1="237.30" y1="106.60" x2="237.30" y2="114.60" stroke="#e0121c" stroke-width="0.8" />
<line x1="235.90" y1="106.60" x2="238.70" y2="106.60" stroke="#e0121c" stroke-width="0.8" />
<line x1="235.90" y1="114.60" x2="238.70" y2="114.60" stroke="#e0121c" stroke-width="0.8" />
<path d="M237.30,108.25 L239.65,110.60 L237.30,112.95 L234.95,110.60Z" fill="#e0121c" stroke="#e0121c" stroke-width="0"/>
<line x1="246.60" y1="84.70" x2="246.60" y2="96.50" stroke="#e0121c" stroke-width="0.8" />
<line x1="245.20" y1="84.70" x2="248.00" y2="84.70" stroke="#e0121c" stroke-width="0.8" />
<line x1="245.20" y1="96.50" x2="248.00" y2="96.50" stroke="#e0121c" stroke-width="0.8" />
<path d="M246.60,88.25 L248.95,90.60 L246.60,92.95 L244.25,90.60Z" fill="#e0121c" stroke="#e0121c" stroke-width="0"/>
<line x1="254.00" y1="67.90" x2="254.00" y2="85.70" stroke="#e0121c" stroke-width="0.8" />
<line x1="252.60" y1="67.90" x2="255.40" y2="67.90" stroke="#e0121c" stroke-width="0.8" />
<line x1="252.60" y1="85.70" x2="255.40" y2="85.70" stroke="#e0121c" stroke-width="0.8" />
<path d="M254.00,74.45 L256.35,76.80 L254.00,79.15 L251.65,76.80Z" fill="#e0121c" stroke="#e0121c" stroke-width="0"/>
<line x1="260.80" y1="53.40" x2="260.80" y2="64.20" stroke="#e0121c" stroke-width="0.8" />
<line x1="259.40" y1="53.40" x2="262.20" y2="53.40" stroke="#e0121c" stroke-width="0.8" />
<line x1="259.40" y1="64.20" x2="262.20" y2="64.20" stroke="#e0121c" stroke-width="0.8" />
<path d="M260.80,56.45 L263.15,58.80 L260.80,61.15 L258.45,58.80Z" fill="#e0121c" stroke="#e0121c" stroke-width="0"/>
<line x1="270.20" y1="48.40" x2="270.20" y2="54.40" stroke="#e0121c" stroke-width="0.8" />
<line x1="268.80" y1="48.40" x2="271.60" y2="48.40" stroke="#e0121c" stroke-width="0.8" />
<line x1="268.80" y1="54.40" x2="271.60" y2="54.40" stroke="#e0121c" stroke-width="0.8" />
<path d="M270.20,49.05 L272.55,51.40 L270.20,53.75 L267.85,51.40Z" fill="#e0121c" stroke="#e0121c" stroke-width="0"/>
<line x1="277.60" y1="31.30" x2="277.60" y2="45.10" stroke="#e0121c" stroke-width="0.8" />
<line x1="276.20" y1="31.30" x2="279.00" y2="31.30" stroke="#e0121c" stroke-width="0.8" />
<line x1="276.20" y1="45.10" x2="279.00" y2="45.10" stroke="#e0121c" stroke-width="0.8" />
<path d="M277.60,35.85 L279.95,38.20 L277.60,40.55 L275.25,38.20Z" fill="#e0121c" stroke="#e0121c" stroke-width="0"/>
<line x1="284.50" y1="21.20" x2="284.50" y2="27.20" stroke="#e0121c" stroke-width="0.8" />
<line x1="283.10" y1="21.20" x2="285.90" y2="21.20" stroke="#e0121c" stroke-width="0.8" />
<line x1="283.10" y1="27.20" x2="285.90" y2="27.20" stroke="#e0121c" stroke-width="0.8" />
<path d="M284.50,21.85 L286.85,24.20 L284.50,26.55 L282.15,24.20Z" fill="#e0121c" stroke="#e0121c" stroke-width="0"/>
<line x1="254.00" y1="104.90" x2="254.00" y2="111.90" stroke="#e8862e" stroke-width="0.8" />
<line x1="252.60" y1="104.90" x2="255.40" y2="104.90" stroke="#e8862e" stroke-width="0.8" />
<line x1="252.60" y1="111.90" x2="255.40" y2="111.90" stroke="#e8862e" stroke-width="0.8" />
<rect x="252.11" y="106.51" width="3.78" height="3.78" fill="#e8862e" stroke="#e8862e" stroke-width="0"/>
<line x1="260.60" y1="91.80" x2="260.60" y2="100.60" stroke="#e8862e" stroke-width="0.8" />
<line x1="259.20" y1="91.80" x2="262.00" y2="91.80" stroke="#e8862e" stroke-width="0.8" />
<line x1="259.20" y1="100.60" x2="262.00" y2="100.60" stroke="#e8862e" stroke-width="0.8" />
<rect x="258.71" y="94.31" width="3.78" height="3.78" fill="#e8862e" stroke="#e8862e" stroke-width="0"/>
<line x1="270.30" y1="75.90" x2="270.30" y2="85.70" stroke="#e8862e" stroke-width="0.8" />
<line x1="268.90" y1="75.90" x2="271.70" y2="75.90" stroke="#e8862e" stroke-width="0.8" />
<line x1="268.90" y1="85.70" x2="271.70" y2="85.70" stroke="#e8862e" stroke-width="0.8" />
<rect x="268.41" y="78.91" width="3.78" height="3.78" fill="#e8862e" stroke="#e8862e" stroke-width="0"/>
<line x1="277.30" y1="57.40" x2="277.30" y2="68.20" stroke="#e8862e" stroke-width="0.8" />
<line x1="275.90" y1="57.40" x2="278.70" y2="57.40" stroke="#e8862e" stroke-width="0.8" />
<line x1="275.90" y1="68.20" x2="278.70" y2="68.20" stroke="#e8862e" stroke-width="0.8" />
<rect x="275.41" y="60.91" width="3.78" height="3.78" fill="#e8862e" stroke="#e8862e" stroke-width="0"/>
<line x1="284.50" y1="43.50" x2="284.50" y2="54.30" stroke="#e8862e" stroke-width="0.8" />
<line x1="283.10" y1="43.50" x2="285.90" y2="43.50" stroke="#e8862e" stroke-width="0.8" />
<line x1="283.10" y1="54.30" x2="285.90" y2="54.30" stroke="#e8862e" stroke-width="0.8" />
<rect x="282.61" y="47.01" width="3.78" height="3.78" fill="#e8862e" stroke="#e8862e" stroke-width="0"/>
<line x1="291.80" y1="35.70" x2="291.80" y2="43.50" stroke="#e8862e" stroke-width="0.8" />
<line x1="290.40" y1="35.70" x2="293.20" y2="35.70" stroke="#e8862e" stroke-width="0.8" />
<line x1="290.40" y1="43.50" x2="293.20" y2="43.50" stroke="#e8862e" stroke-width="0.8" />
<rect x="289.91" y="37.71" width="3.78" height="3.78" fill="#e8862e" stroke="#e8862e" stroke-width="0"/>
<line x1="301.10" y1="25.30" x2="301.10" y2="30.30" stroke="#e8862e" stroke-width="0.8" />
<line x1="299.70" y1="25.30" x2="302.50" y2="25.30" stroke="#e8862e" stroke-width="0.8" />
<line x1="299.70" y1="30.30" x2="302.50" y2="30.30" stroke="#e8862e" stroke-width="0.8" />
<rect x="299.21" y="25.91" width="3.78" height="3.78" fill="#e8862e" stroke="#e8862e" stroke-width="0"/>
<line x1="260.50" y1="104.30" x2="260.50" y2="112.10" stroke="#3f82f0" stroke-width="0.8" />
<line x1="259.10" y1="104.30" x2="261.90" y2="104.30" stroke="#3f82f0" stroke-width="0.8" />
<line x1="259.10" y1="112.10" x2="261.90" y2="112.10" stroke="#3f82f0" stroke-width="0.8" />
<circle cx="260.50" cy="108.20" r="2.1" fill="#3f82f0" stroke="#3f82f0" stroke-width="0"/>
<line x1="270.30" y1="84.10" x2="270.30" y2="92.90" stroke="#3f82f0" stroke-width="0.8" />
<line x1="268.90" y1="84.10" x2="271.70" y2="84.10" stroke="#3f82f0" stroke-width="0.8" />
<line x1="268.90" y1="92.90" x2="271.70" y2="92.90" stroke="#3f82f0" stroke-width="0.8" />
<circle cx="270.30" cy="88.50" r="2.1" fill="#3f82f0" stroke="#3f82f0" stroke-width="0"/>
<line x1="277.40" y1="66.50" x2="277.40" y2="79.30" stroke="#3f82f0" stroke-width="0.8" />
<line x1="276.00" y1="66.50" x2="278.80" y2="66.50" stroke="#3f82f0" stroke-width="0.8" />
<line x1="276.00" y1="79.30" x2="278.80" y2="79.30" stroke="#3f82f0" stroke-width="0.8" />
<circle cx="277.40" cy="72.90" r="2.1" fill="#3f82f0" stroke="#3f82f0" stroke-width="0"/>
<line x1="284.50" y1="53.70" x2="284.50" y2="63.70" stroke="#3f82f0" stroke-width="0.8" />
<line x1="283.10" y1="53.70" x2="285.90" y2="53.70" stroke="#3f82f0" stroke-width="0.8" />
<line x1="283.10" y1="63.70" x2="285.90" y2="63.70" stroke="#3f82f0" stroke-width="0.8" />
<circle cx="284.50" cy="58.70" r="2.1" fill="#3f82f0" stroke="#3f82f0" stroke-width="0"/>
<line x1="291.80" y1="40.70" x2="291.80" y2="51.50" stroke="#3f82f0" stroke-width="0.8" />
<line x1="290.40" y1="40.70" x2="293.20" y2="40.70" stroke="#3f82f0" stroke-width="0.8" />
<line x1="290.40" y1="51.50" x2="293.20" y2="51.50" stroke="#3f82f0" stroke-width="0.8" />
<circle cx="291.80" cy="46.10" r="2.1" fill="#3f82f0" stroke="#3f82f0" stroke-width="0"/>
<line x1="300.80" y1="31.20" x2="300.80" y2="36.20" stroke="#3f82f0" stroke-width="0.8" />
<line x1="299.40" y1="31.20" x2="302.20" y2="31.20" stroke="#3f82f0" stroke-width="0.8" />
<line x1="299.40" y1="36.20" x2="302.20" y2="36.20" stroke="#3f82f0" stroke-width="0.8" />
<circle cx="300.80" cy="33.70" r="2.1" fill="#3f82f0" stroke="#3f82f0" stroke-width="0"/>
<line x1="308.10" y1="25.70" x2="308.10" y2="28.70" stroke="#3f82f0" stroke-width="0.8" />
<line x1="306.70" y1="25.70" x2="309.50" y2="25.70" stroke="#3f82f0" stroke-width="0.8" />
<line x1="306.70" y1="28.70" x2="309.50" y2="28.70" stroke="#3f82f0" stroke-width="0.8" />
<circle cx="308.10" cy="27.20" r="2.1" fill="#3f82f0" stroke="#3f82f0" stroke-width="0"/>
<text x="354.4" y="10.4" font-size="15.2" fill="#000" style="stroke-width:0.3">C</text>
<line x1="384.40" y1="20.00" x2="384.40" y2="121.20" stroke="#333" stroke-width="1" />
<line x1="380.40" y1="121.20" x2="384.40" y2="121.20" stroke="#333" stroke-width="1" />
<text x="379.10" y="122.80" font-size="7.2" text-anchor="end" fill="#111" >0</text>
<line x1="380.40" y1="100.96" x2="384.40" y2="100.96" stroke="#333" stroke-width="1" />
<text x="379.10" y="102.56" font-size="7.2" text-anchor="end" fill="#111" >20</text>
<line x1="380.40" y1="80.72" x2="384.40" y2="80.72" stroke="#333" stroke-width="1" />
<text x="379.10" y="82.32" font-size="7.2" text-anchor="end" fill="#111" >40</text>
<line x1="380.40" y1="60.48" x2="384.40" y2="60.48" stroke="#333" stroke-width="1" />
<text x="379.10" y="62.08" font-size="7.2" text-anchor="end" fill="#111" >60</text>
<line x1="380.40" y1="40.24" x2="384.40" y2="40.24" stroke="#333" stroke-width="1" />
<text x="379.10" y="41.84" font-size="7.2" text-anchor="end" fill="#111" >80</text>
<line x1="380.40" y1="20.00" x2="384.40" y2="20.00" stroke="#333" stroke-width="1" />
<text x="379.10" y="21.60" font-size="7.2" text-anchor="end" fill="#111" >100</text>
<line x1="384.40" y1="121.20" x2="520.00" y2="121.20" stroke="#333" stroke-width="1" />
<line x1="384.30" y1="121.20" x2="384.30" y2="125.40" stroke="#333" stroke-width="1" />
<text x="379.70" y="135.10" font-size="7.2" fill="#111">10<tspan font-size="6.2" dy="-2.7">-1</tspan></text>
<line x1="408.10" y1="121.20" x2="408.10" y2="125.40" stroke="#333" stroke-width="1" />
<text x="408.10" y="135.10" font-size="7.2" text-anchor="middle" fill="#111" >1</text>
<line x1="431.90" y1="121.20" x2="431.90" y2="125.40" stroke="#333" stroke-width="1" />
<text x="431.90" y="135.10" font-size="7.2" text-anchor="middle" fill="#111" >10</text>
<line x1="455.70" y1="121.20" x2="455.70" y2="125.40" stroke="#333" stroke-width="1" />
<text x="451.10" y="135.10" font-size="7.2" fill="#111">10<tspan font-size="6.2" dy="-2.7">2</tspan></text>
<line x1="479.50" y1="121.20" x2="479.50" y2="125.40" stroke="#333" stroke-width="1" />
<text x="474.90" y="135.10" font-size="7.2" fill="#111">10<tspan font-size="6.2" dy="-2.7">3</tspan></text>
<line x1="503.30" y1="121.20" x2="503.30" y2="125.40" stroke="#333" stroke-width="1" />
<text x="498.70" y="135.10" font-size="7.2" fill="#111">10<tspan font-size="6.2" dy="-2.7">4</tspan></text>
<text x="449.50" y="145.50" font-size="7.7" text-anchor="middle" fill="#111" >[2GBI]&#160;&#160;(μM)</text>
<text x="0" y="0" font-size="8.3" text-anchor="middle" fill="#111" transform="translate(364.20,69.80) rotate(-90)">% inhibition</text>
<line x1="388.90" y1="9.50" x2="398.70" y2="9.50" stroke="#3f82f0" stroke-width="1.25" />
<circle cx="393.80" cy="9.50" r="2.1" fill="#3f82f0" stroke="#3f82f0" stroke-width="0"/>
<text x="403.80" y="12.10" font-size="7.2" text-anchor="start" fill="#111" >F182W</text>
<line x1="388.90" y1="21.00" x2="398.70" y2="21.00" stroke="#e0121c" stroke-width="1.25" />
<path d="M393.80,18.65 L396.15,21.00 L393.80,23.35 L391.45,21.00Z" fill="#e0121c" stroke="#e0121c" stroke-width="0"/>
<text x="403.80" y="23.60" font-size="7.2" text-anchor="start" fill="#111" >F182A</text>
<line x1="388.90" y1="31.60" x2="398.70" y2="31.60" stroke="#222" stroke-width="1.2" stroke-dasharray="2.4,1.4"/>
<text x="403.80" y="34.20" font-size="7.2" text-anchor="start" fill="#111" >WT</text>
<path d="M401.00,119.31 L401.50,119.22 L402.00,119.13 L402.50,119.04 L403.00,118.94 L403.50,118.84 L404.00,118.73 L404.50,118.62 L405.00,118.51 L405.50,118.39 L406.00,118.26 L406.50,118.13 L407.00,118.00 L407.50,117.85 L408.00,117.71 L408.50,117.55 L409.00,117.39 L409.50,117.22 L410.00,117.05 L410.50,116.87 L411.00,116.67 L411.50,116.48 L412.00,116.27 L412.50,116.06 L413.00,115.83 L413.50,115.60 L414.00,115.36 L414.50,115.10 L415.00,114.84 L415.50,114.57 L416.00,114.29 L416.50,113.99 L417.00,113.68 L417.50,113.37 L418.00,113.04 L418.50,112.69 L419.00,112.34 L419.50,111.97 L420.00,111.58 L420.50,111.18 L421.00,110.77 L421.50,110.34 L422.00,109.90 L422.50,109.44 L423.00,108.97 L423.50,108.48 L424.00,107.97 L424.50,107.44 L425.00,106.90 L425.50,106.34 L426.00,105.76 L426.50,105.17 L427.00,104.55 L427.50,103.92 L428.00,103.27 L428.50,102.59 L429.00,101.90 L429.50,101.19 L430.00,100.46 L430.50,99.71 L431.00,98.94 L431.50,98.15 L432.00,97.34 L432.50,96.52 L433.00,95.67 L433.50,94.80 L434.00,93.92 L434.50,93.01 L435.00,92.09 L435.50,91.15 L436.00,90.19 L436.50,89.22 L437.00,88.23 L437.50,87.22 L438.00,86.20 L438.50,85.17 L439.00,84.12 L439.50,83.06 L440.00,81.99 L440.50,80.90 L441.00,79.81 L441.50,78.71 L442.00,77.60 L442.50,76.48 L443.00,75.36 L443.50,74.23 L444.00,73.10 L444.50,71.96 L445.00,70.83 L445.50,69.69 L446.00,68.56 L446.50,67.42 L447.00,66.29 L447.50,65.17 L448.00,64.05 L448.50,62.94 L449.00,61.83 L449.50,60.73 L450.00,59.65 L450.50,58.57 L451.00,57.50 L451.50,56.45 L452.00,55.41 L452.50,54.38 L453.00,53.37 L453.50,52.37 L454.00,51.39 L454.50,50.43 L455.00,49.48 L455.50,48.55 L456.00,47.64 L456.50,46.75 L457.00,45.88 L457.50,45.02 L458.00,44.19 L458.50,43.37 L459.00,42.57 L459.50,41.79 L460.00,41.04 L460.50,40.30 L461.00,39.58 L461.50,38.88 L462.00,38.20 L462.50,37.54 L463.00,36.90 L463.50,36.28 L464.00,35.67 L464.50,35.09 L465.00,34.52 L465.50,33.97 L466.00,33.44 L466.50,32.92 L467.00,32.43 L467.50,31.94 L468.00,31.48 L468.50,31.03 L469.00,30.60 L469.50,30.18 L470.00,29.78 L470.50,29.39 L471.00,29.01 L471.50,28.65 L472.00,28.30 L472.50,27.96 L473.00,27.64 L473.50,27.33 L474.00,27.03 L474.50,26.74 L475.00,26.47 L475.50,26.20 L476.00,25.94 L476.50,25.70 L477.00,25.46 L477.50,25.23 L478.00,25.01 L478.50,24.80 L479.00,24.60 L479.50,24.41 L480.00,24.22 L480.50,24.05 L481.00,23.88 L481.50,23.71 L482.00,23.55 L482.50,23.40 L483.00,23.26 L483.50,23.12 L484.00,22.99 L484.50,22.86 L485.00,22.74 L485.50,22.62 L486.00,22.51 L486.50,22.40 L487.00,22.30 L487.50,22.20 L488.00,22.10 L488.50,22.01 L489.00,21.93 L489.50,21.84 L490.00,21.76 L490.50,21.69" fill="none" stroke="#111" stroke-width="1.3" stroke-dasharray="2.6,1.6"/>
<path d="M391.40,119.52 L391.90,119.45 L392.40,119.38 L392.90,119.30 L393.40,119.22 L393.90,119.14 L394.40,119.05 L394.90,118.96 L395.40,118.87 L395.90,118.77 L396.40,118.67 L396.90,118.56 L397.40,118.45 L397.90,118.34 L398.40,118.22 L398.90,118.09 L399.40,117.96 L399.90,117.83 L400.40,117.69 L400.90,117.54 L401.40,117.39 L401.90,117.24 L402.40,117.07 L402.90,116.90 L403.40,116.73 L403.90,116.55 L404.40,116.36 L404.90,116.16 L405.40,115.95 L405.90,115.74 L406.40,115.52 L406.90,115.29 L407.40,115.05 L407.90,114.80 L408.40,114.55 L408.90,114.28 L409.40,114.01 L409.90,113.72 L410.40,113.42 L410.90,113.12 L411.40,112.80 L411.90,112.47 L412.40,112.13 L412.90,111.78 L413.40,111.41 L413.90,111.03 L414.40,110.64 L414.90,110.24 L415.40,109.82 L415.90,109.39 L416.40,108.95 L416.90,108.49 L417.40,108.01 L417.90,107.52 L418.40,107.02 L418.90,106.50 L419.40,105.96 L419.90,105.41 L420.40,104.84 L420.90,104.26 L421.40,103.66 L421.90,103.04 L422.40,102.41 L422.90,101.76 L423.40,101.09 L423.90,100.40 L424.40,99.70 L424.90,98.98 L425.40,98.24 L425.90,97.49 L426.40,96.72 L426.90,95.93 L427.40,95.13 L427.90,94.31 L428.40,93.47 L428.90,92.62 L429.40,91.75 L429.90,90.86 L430.40,89.96 L430.90,89.05 L431.40,88.12 L431.90,87.18 L432.40,86.22 L432.90,85.26 L433.40,84.28 L433.90,83.29 L434.40,82.29 L434.90,81.27 L435.40,80.26 L435.90,79.23 L436.40,78.19 L436.90,77.15 L437.40,76.10 L437.90,75.05 L438.40,73.99 L438.90,72.94 L439.40,71.87 L439.90,70.81 L440.40,69.75 L440.90,68.69 L441.40,67.63 L441.90,66.57 L442.40,65.52 L442.90,64.47 L443.40,63.42 L443.90,62.39 L444.40,61.35 L444.90,60.33 L445.40,59.32 L445.90,58.31 L446.40,57.32 L446.90,56.33 L447.40,55.36 L447.90,54.40 L448.40,53.46 L448.90,52.52 L449.40,51.60 L449.90,50.70 L450.40,49.81 L450.90,48.93 L451.40,48.07 L451.90,47.23 L452.40,46.40 L452.90,45.59 L453.40,44.79 L453.90,44.02 L454.40,43.25 L454.90,42.51 L455.40,41.78 L455.90,41.08 L456.40,40.38 L456.90,39.71 L457.40,39.05 L457.90,38.41 L458.40,37.78 L458.90,37.18 L459.40,36.59 L459.90,36.01 L460.40,35.45 L460.90,34.91 L461.40,34.39 L461.90,33.88 L462.40,33.38 L462.90,32.90 L463.40,32.44 L463.90,31.98 L464.40,31.55 L464.90,31.13 L465.40,30.72 L465.90,30.32 L466.40,29.94 L466.90,29.57 L467.40,29.21 L467.90,28.86 L468.40,28.53 L468.90,28.21 L469.40,27.90 L469.90,27.60 L470.40,27.31 L470.90,27.03 L471.40,26.76 L471.90,26.50 L472.40,26.25 L472.90,26.00 L473.40,25.77 L473.90,25.55 L474.40,25.33 L474.90,25.12 L475.40,24.92 L475.90,24.73 L476.40,24.54 L476.90,24.37 L477.40,24.19 L477.90,24.03 L478.40,23.87 L478.90,23.71 L479.40,23.57 L479.90,23.43 L480.40,23.29 L480.90,23.16 L481.40,23.03 L481.90,22.91 L482.40,22.79 L482.90,22.68 L483.40,22.58 L483.90,22.47 L484.40,22.37 L484.90,22.28 L485.40,22.19 L485.90,22.10 L486.40,22.01 L486.90,21.93 L487.40,21.85 L487.90,21.78 L488.40,21.71 L488.90,21.64 L489.40,21.57 L489.90,21.51 L490.40,21.45" fill="none" stroke="#e0121c" stroke-width="1.2" />
<path d="M401.50,118.31 L402.00,118.18 L402.50,118.05 L403.00,117.91 L403.50,117.76 L404.00,117.61 L404.50,117.46 L405.00,117.29 L405.50,117.12 L406.00,116.95 L406.50,116.76 L407.00,116.57 L407.50,116.37 L408.00,116.16 L408.50,115.94 L409.00,115.72 L409.50,115.48 L410.00,115.24 L410.50,114.99 L411.00,114.72 L411.50,114.45 L412.00,114.16 L412.50,113.86 L413.00,113.56 L413.50,113.24 L414.00,112.91 L414.50,112.56 L415.00,112.20 L415.50,111.83 L416.00,111.45 L416.50,111.05 L417.00,110.64 L417.50,110.21 L418.00,109.77 L418.50,109.31 L419.00,108.83 L419.50,108.34 L420.00,107.84 L420.50,107.31 L421.00,106.77 L421.50,106.21 L422.00,105.64 L422.50,105.04 L423.00,104.43 L423.50,103.80 L424.00,103.15 L424.50,102.49 L425.00,101.80 L425.50,101.09 L426.00,100.37 L426.50,99.62 L427.00,98.86 L427.50,98.08 L428.00,97.27 L428.50,96.45 L429.00,95.61 L429.50,94.76 L430.00,93.88 L430.50,92.98 L431.00,92.07 L431.50,91.14 L432.00,90.20 L432.50,89.23 L433.00,88.25 L433.50,87.26 L434.00,86.25 L434.50,85.23 L435.00,84.19 L435.50,83.14 L436.00,82.08 L436.50,81.01 L437.00,79.93 L437.50,78.84 L438.00,77.74 L438.50,76.64 L439.00,75.53 L439.50,74.41 L440.00,73.29 L440.50,72.17 L441.00,71.05 L441.50,69.93 L442.00,68.80 L442.50,67.68 L443.00,66.56 L443.50,65.45 L444.00,64.34 L444.50,63.24 L445.00,62.14 L445.50,61.05 L446.00,59.97 L446.50,58.91 L447.00,57.85 L447.50,56.80 L448.00,55.77 L448.50,54.75 L449.00,53.74 L449.50,52.75 L450.00,51.77 L450.50,50.81 L451.00,49.87 L451.50,48.94 L452.00,48.03 L452.50,47.14 L453.00,46.27 L453.50,45.42 L454.00,44.58 L454.50,43.76 L455.00,42.97 L455.50,42.19 L456.00,41.43 L456.50,40.69 L457.00,39.96 L457.50,39.26 L458.00,38.58 L458.50,37.92 L459.00,37.27 L459.50,36.64 L460.00,36.03 L460.50,35.44 L461.00,34.87 L461.50,34.32 L462.00,33.78 L462.50,33.26 L463.00,32.76 L463.50,32.27 L464.00,31.80 L464.50,31.34 L465.00,30.90 L465.50,30.48 L466.00,30.07 L466.50,29.67 L467.00,29.29 L467.50,28.92 L468.00,28.57 L468.50,28.23 L469.00,27.90 L469.50,27.58 L470.00,27.28 L470.50,26.98 L471.00,26.70 L471.50,26.43 L472.00,26.16 L472.50,25.91 L473.00,25.67 L473.50,25.44 L474.00,25.21 L474.50,25.00 L475.00,24.79 L475.50,24.59 L476.00,24.40 L476.50,24.22 L477.00,24.04 L477.50,23.87 L478.00,23.71 L478.50,23.55 L479.00,23.41 L479.50,23.26 L480.00,23.13 L480.50,22.99 L481.00,22.87 L481.50,22.75 L482.00,22.63 L482.50,22.52 L483.00,22.41 L483.50,22.31 L484.00,22.21 L484.50,22.12 L485.00,22.03 L485.50,21.94 L486.00,21.86 L486.50,21.78 L487.00,21.70 L487.50,21.63 L488.00,21.56 L488.50,21.49 L489.00,21.43 L489.50,21.37 L490.00,21.31 L490.50,21.25" fill="none" stroke="#3f82f0" stroke-width="1.2" />
<line x1="417.20" y1="110.10" x2="417.20" y2="114.10" stroke="#3f82f0" stroke-width="0.8" />
<line x1="415.80" y1="110.10" x2="418.60" y2="110.10" stroke="#3f82f0" stroke-width="0.8" />
<line x1="415.80" y1="114.10" x2="418.60" y2="114.10" stroke="#3f82f0" stroke-width="0.8" />
<circle cx="417.20" cy="112.10" r="2.1" fill="#3f82f0" stroke="#3f82f0" stroke-width="0"/>
<line x1="424.60" y1="100.30" x2="424.60" y2="104.30" stroke="#3f82f0" stroke-width="0.8" />
<line x1="423.20" y1="100.30" x2="426.00" y2="100.30" stroke="#3f82f0" stroke-width="0.8" />
<line x1="423.20" y1="104.30" x2="426.00" y2="104.30" stroke="#3f82f0" stroke-width="0.8" />
<circle cx="424.60" cy="102.30" r="2.1" fill="#3f82f0" stroke="#3f82f0" stroke-width="0"/>
<line x1="431.20" y1="87.40" x2="431.20" y2="92.40" stroke="#3f82f0" stroke-width="0.8" />
<line x1="429.80" y1="87.40" x2="432.60" y2="87.40" stroke="#3f82f0" stroke-width="0.8" />
<line x1="429.80" y1="92.40" x2="432.60" y2="92.40" stroke="#3f82f0" stroke-width="0.8" />
<circle cx="431.20" cy="89.90" r="2.1" fill="#3f82f0" stroke="#3f82f0" stroke-width="0"/>
<line x1="439.30" y1="73.60" x2="439.30" y2="79.60" stroke="#3f82f0" stroke-width="0.8" />
<line x1="437.90" y1="73.60" x2="440.70" y2="73.60" stroke="#3f82f0" stroke-width="0.8" />
<line x1="437.90" y1="79.60" x2="440.70" y2="79.60" stroke="#3f82f0" stroke-width="0.8" />
<circle cx="439.30" cy="76.60" r="2.1" fill="#3f82f0" stroke="#3f82f0" stroke-width="0"/>
<line x1="448.10" y1="51.90" x2="448.10" y2="57.90" stroke="#3f82f0" stroke-width="0.8" />
<line x1="446.70" y1="51.90" x2="449.50" y2="51.90" stroke="#3f82f0" stroke-width="0.8" />
<line x1="446.70" y1="57.90" x2="449.50" y2="57.90" stroke="#3f82f0" stroke-width="0.8" />
<circle cx="448.10" cy="54.90" r="2.1" fill="#3f82f0" stroke="#3f82f0" stroke-width="0"/>
<line x1="455.70" y1="45.60" x2="455.70" y2="51.60" stroke="#3f82f0" stroke-width="0.8" />
<line x1="454.30" y1="45.60" x2="457.10" y2="45.60" stroke="#3f82f0" stroke-width="0.8" />
<line x1="454.30" y1="51.60" x2="457.10" y2="51.60" stroke="#3f82f0" stroke-width="0.8" />
<circle cx="455.70" cy="48.60" r="2.1" fill="#3f82f0" stroke="#3f82f0" stroke-width="0"/>
<line x1="462.90" y1="33.50" x2="462.90" y2="37.50" stroke="#3f82f0" stroke-width="0.8" />
<line x1="461.50" y1="33.50" x2="464.30" y2="33.50" stroke="#3f82f0" stroke-width="0.8" />
<line x1="461.50" y1="37.50" x2="464.30" y2="37.50" stroke="#3f82f0" stroke-width="0.8" />
<circle cx="462.90" cy="35.50" r="2.1" fill="#3f82f0" stroke="#3f82f0" stroke-width="0"/>
<line x1="469.60" y1="24.70" x2="469.60" y2="26.70" stroke="#3f82f0" stroke-width="0.8" />
<line x1="468.20" y1="24.70" x2="471.00" y2="24.70" stroke="#3f82f0" stroke-width="0.8" />
<line x1="468.20" y1="26.70" x2="471.00" y2="26.70" stroke="#3f82f0" stroke-width="0.8" />
<circle cx="469.60" cy="25.70" r="2.1" fill="#3f82f0" stroke="#3f82f0" stroke-width="0"/>
<line x1="424.60" y1="93.30" x2="424.60" y2="104.30" stroke="#e0121c" stroke-width="0.8" />
<line x1="423.20" y1="93.30" x2="426.00" y2="93.30" stroke="#e0121c" stroke-width="0.8" />
<line x1="423.20" y1="104.30" x2="426.00" y2="104.30" stroke="#e0121c" stroke-width="0.8" />
<path d="M424.60,96.45 L426.95,98.80 L424.60,101.15 L422.25,98.80Z" fill="#e0121c" stroke="#e0121c" stroke-width="0"/>
<line x1="431.20" y1="80.40" x2="431.20" y2="89.20" stroke="#e0121c" stroke-width="0.8" />
<line x1="429.80" y1="80.40" x2="432.60" y2="80.40" stroke="#e0121c" stroke-width="0.8" />
<line x1="429.80" y1="89.20" x2="432.60" y2="89.20" stroke="#e0121c" stroke-width="0.8" />
<path d="M431.20,82.45 L433.55,84.80 L431.20,87.15 L428.85,84.80Z" fill="#e0121c" stroke="#e0121c" stroke-width="0"/>
<line x1="438.60" y1="71.90" x2="438.60" y2="76.90" stroke="#e0121c" stroke-width="0.8" />
<line x1="437.20" y1="71.90" x2="440.00" y2="71.90" stroke="#e0121c" stroke-width="0.8" />
<line x1="437.20" y1="76.90" x2="440.00" y2="76.90" stroke="#e0121c" stroke-width="0.8" />
<path d="M438.60,72.05 L440.95,74.40 L438.60,76.75 L436.25,74.40Z" fill="#e0121c" stroke="#e0121c" stroke-width="0"/>
<line x1="448.10" y1="51.90" x2="448.10" y2="64.30" stroke="#e0121c" stroke-width="0.8" />
<line x1="446.70" y1="51.90" x2="449.50" y2="51.90" stroke="#e0121c" stroke-width="0.8" />
<line x1="446.70" y1="64.30" x2="449.50" y2="64.30" stroke="#e0121c" stroke-width="0.8" />
<path d="M448.10,55.75 L450.45,58.10 L448.10,60.45 L445.75,58.10Z" fill="#e0121c" stroke="#e0121c" stroke-width="0"/>
<line x1="455.50" y1="42.20" x2="455.50" y2="47.20" stroke="#e0121c" stroke-width="0.8" />
<line x1="454.10" y1="42.20" x2="456.90" y2="42.20" stroke="#e0121c" stroke-width="0.8" />
<line x1="454.10" y1="47.20" x2="456.90" y2="47.20" stroke="#e0121c" stroke-width="0.8" />
<path d="M455.50,42.35 L457.85,44.70 L455.50,47.05 L453.15,44.70Z" fill="#e0121c" stroke="#e0121c" stroke-width="0"/>
<line x1="462.50" y1="28.50" x2="462.50" y2="32.50" stroke="#e0121c" stroke-width="0.8" />
<line x1="461.10" y1="28.50" x2="463.90" y2="28.50" stroke="#e0121c" stroke-width="0.8" />
<line x1="461.10" y1="32.50" x2="463.90" y2="32.50" stroke="#e0121c" stroke-width="0.8" />
<path d="M462.50,28.15 L464.85,30.50 L462.50,32.85 L460.15,30.50Z" fill="#e0121c" stroke="#e0121c" stroke-width="0"/>
<line x1="478.80" y1="19.40" x2="478.80" y2="24.20" stroke="#e0121c" stroke-width="0.8" />
<line x1="477.40" y1="19.40" x2="480.20" y2="19.40" stroke="#e0121c" stroke-width="0.8" />
<line x1="477.40" y1="24.20" x2="480.20" y2="24.20" stroke="#e0121c" stroke-width="0.8" />
<path d="M478.80,19.45 L481.15,21.80 L478.80,24.15 L476.45,21.80Z" fill="#e0121c" stroke="#e0121c" stroke-width="0"/>
<text x="-1.6" y="165.2" font-size="15.2" fill="#000" style="stroke-width:0.3">D</text>
<line x1="29.50" y1="176.70" x2="29.50" y2="278.40" stroke="#333" stroke-width="1" />
<line x1="25.50" y1="278.40" x2="29.50" y2="278.40" stroke="#333" stroke-width="1" />
<text x="24.20" y="280.00" font-size="7.2" text-anchor="end" fill="#111" >0</text>
<line x1="25.50" y1="258.06" x2="29.50" y2="258.06" stroke="#333" stroke-width="1" />
<text x="24.20" y="259.66" font-size="7.2" text-anchor="end" fill="#111" >20</text>
<line x1="25.50" y1="237.72" x2="29.50" y2="237.72" stroke="#333" stroke-width="1" />
<text x="24.20" y="239.32" font-size="7.2" text-anchor="end" fill="#111" >40</text>
<line x1="25.50" y1="217.38" x2="29.50" y2="217.38" stroke="#333" stroke-width="1" />
<text x="24.20" y="218.98" font-size="7.2" text-anchor="end" fill="#111" >60</text>
<line x1="25.50" y1="197.04" x2="29.50" y2="197.04" stroke="#333" stroke-width="1" />
<text x="24.20" y="198.64" font-size="7.2" text-anchor="end" fill="#111" >80</text>
<line x1="25.50" y1="176.70" x2="29.50" y2="176.70" stroke="#333" stroke-width="1" />
<text x="24.20" y="178.30" font-size="7.2" text-anchor="end" fill="#111" >100</text>
<line x1="29.50" y1="278.40" x2="165.00" y2="278.40" stroke="#333" stroke-width="1" />
<line x1="45.90" y1="278.40" x2="45.90" y2="282.60" stroke="#333" stroke-width="1" />
<text x="41.30" y="292.30" font-size="7.2" fill="#111">10<tspan font-size="6.2" dy="-2.7">-3</tspan></text>
<line x1="69.70" y1="278.40" x2="69.70" y2="282.60" stroke="#333" stroke-width="1" />
<text x="65.10" y="292.30" font-size="7.2" fill="#111">10<tspan font-size="6.2" dy="-2.7">-2</tspan></text>
<line x1="93.50" y1="278.40" x2="93.50" y2="282.60" stroke="#333" stroke-width="1" />
<text x="88.90" y="292.30" font-size="7.2" fill="#111">10<tspan font-size="6.2" dy="-2.7">-1</tspan></text>
<line x1="117.30" y1="278.40" x2="117.30" y2="282.60" stroke="#333" stroke-width="1" />
<text x="117.30" y="292.30" font-size="7.2" text-anchor="middle" fill="#111" >1</text>
<line x1="141.10" y1="278.40" x2="141.10" y2="282.60" stroke="#333" stroke-width="1" />
<text x="141.10" y="292.30" font-size="7.2" text-anchor="middle" fill="#111" >10</text>
<line x1="164.90" y1="278.40" x2="164.90" y2="282.60" stroke="#333" stroke-width="1" />
<text x="160.30" y="292.30" font-size="7.2" fill="#111">10<tspan font-size="6.2" dy="-2.7">2</tspan></text>
<text x="102.00" y="302.30" font-size="7.7" text-anchor="middle" fill="#111" >[2GBI]&#160;&#160;(μM)</text>
<text x="0" y="0" font-size="8.3" text-anchor="middle" fill="#111" transform="translate(8.90,227.20) rotate(-90)">% inhibition</text>
<line x1="34.10" y1="171.00" x2="43.90" y2="171.00" stroke="#3f82f0" stroke-width="1.25" />
<circle cx="39.00" cy="171.00" r="2.1" fill="#3f82f0" stroke="#3f82f0" stroke-width="0"/>
<text x="48.90" y="173.60" font-size="7.2" text-anchor="start" fill="#111" >F150A/F182W</text>
<line x1="34.10" y1="182.80" x2="43.90" y2="182.80" stroke="#e0121c" stroke-width="1.25" />
<path d="M39.00,180.45 L41.35,182.80 L39.00,185.15 L36.65,182.80Z" fill="#e0121c" stroke="#e0121c" stroke-width="0"/>
<text x="48.90" y="185.40" font-size="7.2" text-anchor="start" fill="#111" >F150A/F182A</text>
<line x1="34.10" y1="193.40" x2="43.90" y2="193.40" stroke="#222" stroke-width="1.2" stroke-dasharray="2.4,1.4"/>
<text x="48.90" y="196.00" font-size="7.2" text-anchor="start" fill="#111" >F150A</text>
<path d="M36.30,276.61 L36.80,276.53 L37.30,276.45 L37.80,276.37 L38.30,276.28 L38.80,276.19 L39.30,276.09 L39.80,275.99 L40.30,275.88 L40.80,275.78 L41.30,275.66 L41.80,275.54 L42.30,275.42 L42.80,275.29 L43.30,275.16 L43.80,275.02 L44.30,274.87 L44.80,274.72 L45.30,274.56 L45.80,274.40 L46.30,274.23 L46.80,274.05 L47.30,273.87 L47.80,273.67 L48.30,273.47 L48.80,273.27 L49.30,273.05 L49.80,272.82 L50.30,272.59 L50.80,272.35 L51.30,272.09 L51.80,271.83 L52.30,271.56 L52.80,271.28 L53.30,270.98 L53.80,270.68 L54.30,270.36 L54.80,270.03 L55.30,269.69 L55.80,269.34 L56.30,268.97 L56.80,268.60 L57.30,268.20 L57.80,267.80 L58.30,267.38 L58.80,266.94 L59.30,266.49 L59.80,266.02 L60.30,265.54 L60.80,265.05 L61.30,264.53 L61.80,264.00 L62.30,263.46 L62.80,262.89 L63.30,262.31 L63.80,261.71 L64.30,261.10 L64.80,260.46 L65.30,259.81 L65.80,259.14 L66.30,258.45 L66.80,257.74 L67.30,257.02 L67.80,256.27 L68.30,255.51 L68.80,254.73 L69.30,253.93 L69.80,253.11 L70.30,252.28 L70.80,251.42 L71.30,250.55 L71.80,249.66 L72.30,248.76 L72.80,247.83 L73.30,246.89 L73.80,245.94 L74.30,244.97 L74.80,243.99 L75.30,242.99 L75.80,241.98 L76.30,240.95 L76.80,239.92 L77.30,238.87 L77.80,237.81 L78.30,236.75 L78.80,235.67 L79.30,234.59 L79.80,233.50 L80.30,232.41 L80.80,231.31 L81.30,230.20 L81.80,229.10 L82.30,227.99 L82.80,226.89 L83.30,225.78 L83.80,224.68 L84.30,223.57 L84.80,222.48 L85.30,221.38 L85.80,220.29 L86.30,219.21 L86.80,218.14 L87.30,217.08 L87.80,216.02 L88.30,214.98 L88.80,213.94 L89.30,212.92 L89.80,211.91 L90.30,210.92 L90.80,209.94 L91.30,208.97 L91.80,208.02 L92.30,207.08 L92.80,206.16 L93.30,205.26 L93.80,204.37 L94.30,203.51 L94.80,202.66 L95.30,201.82 L95.80,201.01 L96.30,200.21 L96.80,199.43 L97.30,198.68 L97.80,197.93 L98.30,197.21 L98.80,196.51 L99.30,195.82 L99.80,195.16 L100.30,194.51 L100.80,193.88 L101.30,193.26 L101.80,192.67 L102.30,192.09 L102.80,191.53 L103.30,190.99 L103.80,190.46 L104.30,189.95 L104.80,189.46 L105.30,188.98 L105.80,188.52 L106.30,188.07 L106.80,187.64 L107.30,187.22 L107.80,186.82 L108.30,186.43 L108.80,186.05 L109.30,185.69 L109.80,185.34 L110.30,185.00 L110.80,184.67 L111.30,184.36 L111.80,184.06 L112.30,183.77 L112.80,183.48 L113.30,183.21 L113.80,182.95 L114.30,182.70 L114.80,182.46 L115.30,182.23 L115.80,182.01 L116.30,181.79 L116.80,181.59 L117.30,181.39 L117.80,181.20 L118.30,181.01 L118.80,180.84 L119.30,180.67 L119.80,180.50 L120.30,180.35 L120.80,180.20 L121.30,180.05 L121.80,179.92 L122.30,179.78 L122.80,179.66 L123.30,179.53 L123.80,179.42 L124.30,179.30 L124.80,179.19 L125.30,179.09 L125.80,178.99 L126.30,178.90 L126.80,178.80 L127.30,178.72 L127.80,178.63 L128.30,178.55 L128.80,178.47 L129.30,178.40 L129.80,178.33 L130.30,178.26 L130.80,178.19 L131.30,178.13 L131.80,178.07 L132.30,178.01 L132.80,177.96 L133.30,177.91 L133.80,177.85 L134.30,177.81 L134.80,177.76 L135.30,177.71" fill="none" stroke="#3f82f0" stroke-width="1.2" />
<path d="M45.80,277.14 L46.30,277.09 L46.80,277.03 L47.30,276.97 L47.80,276.91 L48.30,276.84 L48.80,276.77 L49.30,276.70 L49.80,276.63 L50.30,276.55 L50.80,276.47 L51.30,276.38 L51.80,276.30 L52.30,276.20 L52.80,276.11 L53.30,276.01 L53.80,275.91 L54.30,275.80 L54.80,275.68 L55.30,275.57 L55.80,275.44 L56.30,275.32 L56.80,275.18 L57.30,275.05 L57.80,274.90 L58.30,274.75 L58.80,274.60 L59.30,274.43 L59.80,274.26 L60.30,274.09 L60.80,273.90 L61.30,273.71 L61.80,273.51 L62.30,273.31 L62.80,273.09 L63.30,272.87 L63.80,272.64 L64.30,272.40 L64.80,272.15 L65.30,271.89 L65.80,271.62 L66.30,271.33 L66.80,271.04 L67.30,270.74 L67.80,270.43 L68.30,270.10 L68.80,269.76 L69.30,269.41 L69.80,269.05 L70.30,268.67 L70.80,268.28 L71.30,267.88 L71.80,267.46 L72.30,267.03 L72.80,266.58 L73.30,266.12 L73.80,265.64 L74.30,265.15 L74.80,264.64 L75.30,264.11 L75.80,263.57 L76.30,263.01 L76.80,262.43 L77.30,261.84 L77.80,261.22 L78.30,260.59 L78.80,259.94 L79.30,259.28 L79.80,258.59 L80.30,257.89 L80.80,257.17 L81.30,256.42 L81.80,255.67 L82.30,254.89 L82.80,254.09 L83.30,253.28 L83.80,252.44 L84.30,251.59 L84.80,250.73 L85.30,249.84 L85.80,248.94 L86.30,248.02 L86.80,247.08 L87.30,246.13 L87.80,245.16 L88.30,244.18 L88.80,243.19 L89.30,242.18 L89.80,241.16 L90.30,240.12 L90.80,239.08 L91.30,238.02 L91.80,236.96 L92.30,235.89 L92.80,234.81 L93.30,233.72 L93.80,232.62 L94.30,231.53 L94.80,230.42 L95.30,229.32 L95.80,228.21 L96.30,227.11 L96.80,226.00 L97.30,224.90 L97.80,223.79 L98.30,222.69 L98.80,221.60 L99.30,220.51 L99.80,219.43 L100.30,218.35 L100.80,217.29 L101.30,216.23 L101.80,215.18 L102.30,214.15 L102.80,213.12 L103.30,212.11 L103.80,211.11 L104.30,210.13 L104.80,209.16 L105.30,208.21 L105.80,207.27 L106.30,206.34 L106.80,205.44 L107.30,204.55 L107.80,203.68 L108.30,202.82 L108.80,201.99 L109.30,201.17 L109.80,200.37 L110.30,199.59 L110.80,198.83 L111.30,198.08 L111.80,197.36 L112.30,196.65 L112.80,195.96 L113.30,195.29 L113.80,194.64 L114.30,194.00 L114.80,193.39 L115.30,192.79 L115.80,192.21 L116.30,191.64 L116.80,191.10 L117.30,190.57 L117.80,190.05 L118.30,189.56 L118.80,189.08 L119.30,188.61 L119.80,188.16 L120.30,187.72 L120.80,187.30 L121.30,186.90 L121.80,186.50 L122.30,186.13 L122.80,185.76 L123.30,185.41 L123.80,185.07 L124.30,184.74 L124.80,184.42 L125.30,184.12 L125.80,183.82 L126.30,183.54 L126.80,183.27 L127.30,183.01 L127.80,182.75 L128.30,182.51 L128.80,182.28 L129.30,182.05 L129.80,181.83 L130.30,181.63 L130.80,181.43 L131.30,181.23 L131.80,181.05 L132.30,180.87 L132.80,180.70 L133.30,180.54 L133.80,180.38 L134.30,180.23 L134.80,180.08 L135.30,179.94 L135.80,179.81 L136.30,179.68 L136.80,179.56 L137.30,179.44 L137.80,179.32 L138.30,179.22 L138.80,179.11 L139.30,179.01 L139.80,178.91 L140.30,178.82 L140.80,178.73 L141.30,178.65 L141.80,178.57 L142.30,178.49 L142.80,178.41 L143.30,178.34 L143.80,178.27 L144.30,178.21 L144.80,178.14 L145.30,178.08 L145.80,178.02 L146.30,177.97 L146.80,177.92" fill="none" stroke="#111" stroke-width="1.3" stroke-dasharray="2.6,1.6"/>
<path d="M69.30,276.41 L69.80,276.32 L70.30,276.23 L70.80,276.14 L71.30,276.04 L71.80,275.94 L72.30,275.84 L72.80,275.73 L73.30,275.62 L73.80,275.50 L74.30,275.37 L74.80,275.25 L75.30,275.11 L75.80,274.97 L76.30,274.83 L76.80,274.68 L77.30,274.52 L77.80,274.36 L78.30,274.19 L78.80,274.01 L79.30,273.83 L79.80,273.64 L80.30,273.44 L80.80,273.24 L81.30,273.02 L81.80,272.80 L82.30,272.57 L82.80,272.33 L83.30,272.08 L83.80,271.82 L84.30,271.55 L84.80,271.27 L85.30,270.99 L85.80,270.69 L86.30,270.38 L86.80,270.05 L87.30,269.72 L87.80,269.37 L88.30,269.01 L88.80,268.64 L89.30,268.26 L89.80,267.86 L90.30,267.45 L90.80,267.03 L91.30,266.59 L91.80,266.13 L92.30,265.66 L92.80,265.18 L93.30,264.68 L93.80,264.16 L94.30,263.63 L94.80,263.08 L95.30,262.51 L95.80,261.93 L96.30,261.33 L96.80,260.72 L97.30,260.08 L97.80,259.43 L98.30,258.76 L98.80,258.07 L99.30,257.37 L99.80,256.64 L100.30,255.90 L100.80,255.14 L101.30,254.37 L101.80,253.57 L102.30,252.76 L102.80,251.93 L103.30,251.08 L103.80,250.22 L104.30,249.34 L104.80,248.44 L105.30,247.53 L105.80,246.60 L106.30,245.66 L106.80,244.70 L107.30,243.73 L107.80,242.75 L108.30,241.75 L108.80,240.74 L109.30,239.72 L109.80,238.69 L110.30,237.65 L110.80,236.60 L111.30,235.54 L111.80,234.47 L112.30,233.40 L112.80,232.33 L113.30,231.24 L113.80,230.16 L114.30,229.07 L114.80,227.99 L115.30,226.90 L115.80,225.81 L116.30,224.72 L116.80,223.64 L117.30,222.56 L117.80,221.48 L118.30,220.41 L118.80,219.35 L119.30,218.29 L119.80,217.25 L120.30,216.21 L120.80,215.18 L121.30,214.16 L121.80,213.15 L122.30,212.16 L122.80,211.17 L123.30,210.21 L123.80,209.25 L124.30,208.31 L124.80,207.39 L125.30,206.48 L125.80,205.58 L126.30,204.71 L126.80,203.85 L127.30,203.00 L127.80,202.18 L128.30,201.37 L128.80,200.58 L129.30,199.80 L129.80,199.05 L130.30,198.31 L130.80,197.59 L131.30,196.89 L131.80,196.20 L132.30,195.54 L132.80,194.89 L133.30,194.26 L133.80,193.65 L134.30,193.05 L134.80,192.47 L135.30,191.91 L135.80,191.36 L136.30,190.83 L136.80,190.32 L137.30,189.82 L137.80,189.34 L138.30,188.88 L138.80,188.43 L139.30,187.99 L139.80,187.57 L140.30,187.16 L140.80,186.76 L141.30,186.38 L141.80,186.01 L142.30,185.66 L142.80,185.31 L143.30,184.98 L143.80,184.66 L144.30,184.35 L144.80,184.06 L145.30,183.77 L145.80,183.49 L146.30,183.23 L146.80,182.97 L147.30,182.72 L147.80,182.48 L148.30,182.25 L148.80,182.03 L149.30,181.82 L149.80,181.62 L150.30,181.42 L150.80,181.23 L151.30,181.05 L151.80,180.88 L152.30,180.71 L152.80,180.55 L153.30,180.39 L153.80,180.24 L154.30,180.10 L154.80,179.96 L155.30,179.83 L155.80,179.70 L156.30,179.58 L156.80,179.46 L157.30,179.35 L157.80,179.24 L158.30,179.14 L158.80,179.04 L159.30,178.94 L159.80,178.85 L160.30,178.76 L160.80,178.68 L161.30,178.59 L161.80,178.52 L162.30,178.44 L162.80,178.37 L163.30,178.30 L163.80,178.23 L164.30,178.17 L164.80,178.11" fill="none" stroke="#e0121c" stroke-width="1.2" />
<line x1="62.40" y1="258.60" x2="62.40" y2="268.40" stroke="#3f82f0" stroke-width="0.8" />
<line x1="61.00" y1="258.60" x2="63.80" y2="258.60" stroke="#3f82f0" stroke-width="0.8" />
<line x1="61.00" y1="268.40" x2="63.80" y2="268.40" stroke="#3f82f0" stroke-width="0.8" />
<circle cx="62.40" cy="263.50" r="2.1" fill="#3f82f0" stroke="#3f82f0" stroke-width="0"/>
<line x1="69.75" y1="246.30" x2="69.75" y2="256.10" stroke="#3f82f0" stroke-width="0.8" />
<line x1="68.35" y1="246.30" x2="71.15" y2="246.30" stroke="#3f82f0" stroke-width="0.8" />
<line x1="68.35" y1="256.10" x2="71.15" y2="256.10" stroke="#3f82f0" stroke-width="0.8" />
<circle cx="69.75" cy="251.20" r="2.1" fill="#3f82f0" stroke="#3f82f0" stroke-width="0"/>
<line x1="76.80" y1="231.60" x2="76.80" y2="247.20" stroke="#3f82f0" stroke-width="0.8" />
<line x1="75.40" y1="231.60" x2="78.20" y2="231.60" stroke="#3f82f0" stroke-width="0.8" />
<line x1="75.40" y1="247.20" x2="78.20" y2="247.20" stroke="#3f82f0" stroke-width="0.8" />
<circle cx="76.80" cy="239.40" r="2.1" fill="#3f82f0" stroke="#3f82f0" stroke-width="0"/>
<line x1="86.10" y1="211.70" x2="86.10" y2="225.70" stroke="#3f82f0" stroke-width="0.8" />
<line x1="84.70" y1="211.70" x2="87.50" y2="211.70" stroke="#3f82f0" stroke-width="0.8" />
<line x1="84.70" y1="225.70" x2="87.50" y2="225.70" stroke="#3f82f0" stroke-width="0.8" />
<circle cx="86.10" cy="218.70" r="2.1" fill="#3f82f0" stroke="#3f82f0" stroke-width="0"/>
<line x1="93.50" y1="198.20" x2="93.50" y2="211.80" stroke="#3f82f0" stroke-width="0.8" />
<line x1="92.10" y1="198.20" x2="94.90" y2="198.20" stroke="#3f82f0" stroke-width="0.8" />
<line x1="92.10" y1="211.80" x2="94.90" y2="211.80" stroke="#3f82f0" stroke-width="0.8" />
<circle cx="93.50" cy="205.00" r="2.1" fill="#3f82f0" stroke="#3f82f0" stroke-width="0"/>
<line x1="100.90" y1="190.00" x2="100.90" y2="199.40" stroke="#3f82f0" stroke-width="0.8" />
<line x1="99.50" y1="190.00" x2="102.30" y2="190.00" stroke="#3f82f0" stroke-width="0.8" />
<line x1="99.50" y1="199.40" x2="102.30" y2="199.40" stroke="#3f82f0" stroke-width="0.8" />
<circle cx="100.90" cy="194.70" r="2.1" fill="#3f82f0" stroke="#3f82f0" stroke-width="0"/>
<line x1="110.20" y1="179.20" x2="110.20" y2="183.20" stroke="#3f82f0" stroke-width="0.8" />
<line x1="108.80" y1="179.20" x2="111.60" y2="179.20" stroke="#3f82f0" stroke-width="0.8" />
<line x1="108.80" y1="183.20" x2="111.60" y2="183.20" stroke="#3f82f0" stroke-width="0.8" />
<circle cx="110.20" cy="181.20" r="2.1" fill="#3f82f0" stroke="#3f82f0" stroke-width="0"/>
<line x1="93.50" y1="258.60" x2="93.50" y2="268.40" stroke="#e0121c" stroke-width="0.8" />
<line x1="92.10" y1="258.60" x2="94.90" y2="258.60" stroke="#e0121c" stroke-width="0.8" />
<line x1="92.10" y1="268.40" x2="94.90" y2="268.40" stroke="#e0121c" stroke-width="0.8" />
<path d="M93.50,261.15 L95.85,263.50 L93.50,265.85 L91.15,263.50Z" fill="#e0121c" stroke="#e0121c" stroke-width="0"/>
<line x1="107.50" y1="239.40" x2="107.50" y2="247.40" stroke="#e0121c" stroke-width="0.8" />
<line x1="106.10" y1="239.40" x2="108.90" y2="239.40" stroke="#e0121c" stroke-width="0.8" />
<line x1="106.10" y1="247.40" x2="108.90" y2="247.40" stroke="#e0121c" stroke-width="0.8" />
<path d="M107.50,241.05 L109.85,243.40 L107.50,245.75 L105.15,243.40Z" fill="#e0121c" stroke="#e0121c" stroke-width="0"/>
<line x1="117.30" y1="217.50" x2="117.30" y2="229.50" stroke="#e0121c" stroke-width="0.8" />
<line x1="115.90" y1="217.50" x2="118.70" y2="217.50" stroke="#e0121c" stroke-width="0.8" />
<line x1="115.90" y1="229.50" x2="118.70" y2="229.50" stroke="#e0121c" stroke-width="0.8" />
<path d="M117.30,221.15 L119.65,223.50 L117.30,225.85 L114.95,223.50Z" fill="#e0121c" stroke="#e0121c" stroke-width="0"/>
<line x1="126.70" y1="201.90" x2="126.70" y2="209.30" stroke="#e0121c" stroke-width="0.8" />
<line x1="125.30" y1="201.90" x2="128.10" y2="201.90" stroke="#e0121c" stroke-width="0.8" />
<line x1="125.30" y1="209.30" x2="128.10" y2="209.30" stroke="#e0121c" stroke-width="0.8" />
<path d="M126.70,203.25 L129.05,205.60 L126.70,207.95 L124.35,205.60Z" fill="#e0121c" stroke="#e0121c" stroke-width="0"/>
<line x1="134.00" y1="190.50" x2="134.00" y2="196.50" stroke="#e0121c" stroke-width="0.8" />
<line x1="132.60" y1="190.50" x2="135.40" y2="190.50" stroke="#e0121c" stroke-width="0.8" />
<line x1="132.60" y1="196.50" x2="135.40" y2="196.50" stroke="#e0121c" stroke-width="0.8" />
<path d="M134.00,191.15 L136.35,193.50 L134.00,195.85 L131.65,193.50Z" fill="#e0121c" stroke="#e0121c" stroke-width="0"/>
<line x1="141.00" y1="183.40" x2="141.00" y2="187.40" stroke="#e0121c" stroke-width="0.8" />
<line x1="139.60" y1="183.40" x2="142.40" y2="183.40" stroke="#e0121c" stroke-width="0.8" />
<line x1="139.60" y1="187.40" x2="142.40" y2="187.40" stroke="#e0121c" stroke-width="0.8" />
<path d="M141.00,183.05 L143.35,185.40 L141.00,187.75 L138.65,185.40Z" fill="#e0121c" stroke="#e0121c" stroke-width="0"/>
<text x="176.9" y="165.7" font-size="15.2" fill="#000" style="stroke-width:0.3">E</text>
<line x1="206.50" y1="173.00" x2="206.50" y2="278.30" stroke="#333" stroke-width="1" />
<line x1="202.50" y1="278.30" x2="206.50" y2="278.30" stroke="#333" stroke-width="1" />
<text x="201.20" y="279.90" font-size="7.2" text-anchor="end" fill="#111" >0</text>
<line x1="202.50" y1="257.24" x2="206.50" y2="257.24" stroke="#333" stroke-width="1" />
<text x="201.20" y="258.84" font-size="7.2" text-anchor="end" fill="#111" >20</text>
<line x1="202.50" y1="236.18" x2="206.50" y2="236.18" stroke="#333" stroke-width="1" />
<text x="201.20" y="237.78" font-size="7.2" text-anchor="end" fill="#111" >40</text>
<line x1="202.50" y1="215.12" x2="206.50" y2="215.12" stroke="#333" stroke-width="1" />
<text x="201.20" y="216.72" font-size="7.2" text-anchor="end" fill="#111" >60</text>
<line x1="202.50" y1="194.06" x2="206.50" y2="194.06" stroke="#333" stroke-width="1" />
<text x="201.20" y="195.66" font-size="7.2" text-anchor="end" fill="#111" >80</text>
<line x1="202.50" y1="173.00" x2="206.50" y2="173.00" stroke="#333" stroke-width="1" />
<text x="201.20" y="174.60" font-size="7.2" text-anchor="end" fill="#111" >100</text>
<line x1="206.50" y1="278.30" x2="347.90" y2="278.30" stroke="#333" stroke-width="1" />
<line x1="229.60" y1="278.30" x2="229.60" y2="282.50" stroke="#333" stroke-width="1" />
<text x="225.00" y="292.20" font-size="7.2" fill="#111">10<tspan font-size="6.2" dy="-2.7">-3</tspan></text>
<line x1="262.30" y1="278.30" x2="262.30" y2="282.50" stroke="#333" stroke-width="1" />
<text x="257.70" y="292.20" font-size="7.2" fill="#111">10<tspan font-size="6.2" dy="-2.7">-2</tspan></text>
<line x1="295.00" y1="278.30" x2="295.00" y2="282.50" stroke="#333" stroke-width="1" />
<text x="290.40" y="292.20" font-size="7.2" fill="#111">10<tspan font-size="6.2" dy="-2.7">-1</tspan></text>
<line x1="327.70" y1="278.30" x2="327.70" y2="282.50" stroke="#333" stroke-width="1" />
<text x="327.70" y="292.20" font-size="7.2" text-anchor="middle" fill="#111" >1</text>
<text x="274.30" y="302.30" font-size="7.7" text-anchor="middle" fill="#111" >[2GBI]&#160;&#160;(μM)</text>
<text x="0" y="0" font-size="8.3" text-anchor="middle" fill="#111" transform="translate(186.60,221.10) rotate(-90)">% inhibition</text>
<path d="M209.4,170.5 V166.6 H262.8 V170.5" fill="none" stroke="#333" stroke-width="0.9"/>
<text x="235.80" y="163.30" font-size="7.2" text-anchor="middle" fill="#111" >F150A</text>
<line x1="210.70" y1="175.20" x2="220.60" y2="175.20" stroke="#808080" stroke-width="1.25" />
<circle cx="215.65" cy="175.20" r="2.0" fill="#fff" stroke="#808080" stroke-width="0.95"/>
<text x="223.40" y="177.80" font-size="7.2" text-anchor="start" fill="#111" >182Phe</text>
<line x1="210.70" y1="186.30" x2="220.60" y2="186.30" stroke="#f08a8a" stroke-width="1.25" />
<path d="M215.65,184.06 L217.89,186.30 L215.65,188.54 L213.41,186.30Z" fill="#fff" stroke="#f08a8a" stroke-width="0.95"/>
<text x="223.40" y="188.90" font-size="7.2" text-anchor="start" fill="#111" >182PheF</text>
<line x1="210.70" y1="197.80" x2="220.60" y2="197.80" stroke="#e0121c" stroke-width="1.25" />
<path d="M215.65,195.60 L217.85,199.45 L213.45,199.45Z" fill="#fff" stroke="#e0121c" stroke-width="0.95"/>
<text x="223.40" y="200.40" font-size="7.2" text-anchor="start" fill="#111" >182Phe2F</text>
<line x1="210.70" y1="208.90" x2="220.60" y2="208.90" stroke="#7d1e1e" stroke-width="1.25" />
<path d="M215.65,206.66 L217.89,208.90 L215.65,211.14 L213.41,208.90Z" fill="#fff" stroke="#7d1e1e" stroke-width="0.95"/>
<text x="223.40" y="211.50" font-size="7.2" text-anchor="start" fill="#111" >182Phe3F</text>
<path d="M230.20,274.83 L230.70,274.73 L231.20,274.62 L231.70,274.52 L232.20,274.41 L232.70,274.30 L233.20,274.19 L233.70,274.07 L234.20,273.95 L234.70,273.83 L235.20,273.70 L235.70,273.57 L236.20,273.43 L236.70,273.30 L237.20,273.16 L237.70,273.01 L238.20,272.86 L238.70,272.71 L239.20,272.55 L239.70,272.39 L240.20,272.23 L240.70,272.06 L241.20,271.88 L241.70,271.71 L242.20,271.52 L242.70,271.34 L243.20,271.14 L243.70,270.95 L244.20,270.74 L244.70,270.54 L245.20,270.32 L245.70,270.10 L246.20,269.88 L246.70,269.65 L247.20,269.42 L247.70,269.18 L248.20,268.93 L248.70,268.68 L249.20,268.42 L249.70,268.15 L250.20,267.88 L250.70,267.61 L251.20,267.32 L251.70,267.03 L252.20,266.73 L252.70,266.43 L253.20,266.12 L253.70,265.80 L254.20,265.47 L254.70,265.14 L255.20,264.80 L255.70,264.45 L256.20,264.10 L256.70,263.74 L257.20,263.36 L257.70,262.99 L258.20,262.60 L258.70,262.21 L259.20,261.80 L259.70,261.39 L260.20,260.97 L260.70,260.55 L261.20,260.11 L261.70,259.67 L262.20,259.21 L262.70,258.75 L263.20,258.28 L263.70,257.81 L264.20,257.32 L264.70,256.82 L265.20,256.32 L265.70,255.81 L266.20,255.29 L266.70,254.76 L267.20,254.22 L267.70,253.67 L268.20,253.11 L268.70,252.55 L269.20,251.98 L269.70,251.40 L270.20,250.81 L270.70,250.21 L271.20,249.60 L271.70,248.99 L272.20,248.37 L272.70,247.74 L273.20,247.10 L273.70,246.45 L274.20,245.80 L274.70,245.14 L275.20,244.47 L275.70,243.80 L276.20,243.12 L276.70,242.43 L277.20,241.74 L277.70,241.04 L278.20,240.33 L278.70,239.62 L279.20,238.90 L279.70,238.18 L280.20,237.45 L280.70,236.71 L281.20,235.98 L281.70,235.23 L282.20,234.49 L282.70,233.74 L283.20,232.99 L283.70,232.23 L284.20,231.47 L284.70,230.71 L285.20,229.95 L285.70,229.18 L286.20,228.42 L286.70,227.65 L287.20,226.88 L287.70,226.11 L288.20,225.34 L288.70,224.57 L289.20,223.80 L289.70,223.04 L290.20,222.27 L290.70,221.50 L291.20,220.74 L291.70,219.98 L292.20,219.22 L292.70,218.46 L293.20,217.71 L293.70,216.96 L294.20,216.21 L294.70,215.47 L295.20,214.73 L295.70,214.00 L296.20,213.27 L296.70,212.55 L297.20,211.83 L297.70,211.11 L298.20,210.41 L298.70,209.70 L299.20,209.01 L299.70,208.32 L300.20,207.64 L300.70,206.96 L301.20,206.29 L301.70,205.63 L302.20,204.98 L302.70,204.33 L303.20,203.69 L303.70,203.06 L304.20,202.43 L304.70,201.82 L305.20,201.21 L305.70,200.61 L306.20,200.02 L306.70,199.44 L307.20,198.86 L307.70,198.30 L308.20,197.74 L308.70,197.19 L309.20,196.65 L309.70,196.12 L310.20,195.60 L310.70,195.08 L311.20,194.58 L311.70,194.08 L312.20,193.59 L312.70,193.11 L313.20,192.64 L313.70,192.18 L314.20,191.72 L314.70,191.28 L315.20,190.84 L315.70,190.41 L316.20,189.99 L316.70,189.58 L317.20,189.17 L317.70,188.78 L318.20,188.39 L318.70,188.01 L319.20,187.64 L319.70,187.27 L320.20,186.92 L320.70,186.57 L321.20,186.23 L321.70,185.89 L322.20,185.57 L322.70,185.25 L323.20,184.93 L323.70,184.63 L324.20,184.33 L324.70,184.04 L325.20,183.75 L325.70,183.47 L326.20,183.20 L326.70,182.93 L327.20,182.67 L327.70,182.42 L328.20,182.17 L328.70,181.93 L329.20,181.69 L329.70,181.46 L330.20,181.24 L330.70,181.02 L331.20,180.81 L331.70,180.60 L332.20,180.39 L332.70,180.20 L333.20,180.00 L333.70,179.81 L334.20,179.63 L334.70,179.45 L335.20,179.28 L335.70,179.11 L336.20,178.94 L336.70,178.78 L337.20,178.62 L337.70,178.47 L338.20,178.32 L338.70,178.17 L339.20,178.03 L339.70,177.89 L340.20,177.76 L340.70,177.63 L341.20,177.50 L341.70,177.37 L342.20,177.25 L342.70,177.14 L343.20,177.02 L343.70,176.91 L344.20,176.80 L344.70,176.70 L345.20,176.59 L345.70,176.49 L346.20,176.40 L346.70,176.30 L347.20,176.21" fill="none" stroke="#f08a8a" stroke-width="1.2" />
<path d="M239.60,276.01 L240.10,275.93 L240.60,275.85 L241.10,275.76 L241.60,275.68 L242.10,275.59 L242.60,275.50 L243.10,275.40 L243.60,275.31 L244.10,275.20 L244.60,275.10 L245.10,274.99 L245.60,274.88 L246.10,274.77 L246.60,274.65 L247.10,274.53 L247.60,274.40 L248.10,274.27 L248.60,274.14 L249.10,274.00 L249.60,273.85 L250.10,273.71 L250.60,273.55 L251.10,273.40 L251.60,273.23 L252.10,273.07 L252.60,272.89 L253.10,272.72 L253.60,272.53 L254.10,272.34 L254.60,272.15 L255.10,271.95 L255.60,271.74 L256.10,271.53 L256.60,271.31 L257.10,271.08 L257.60,270.85 L258.10,270.61 L258.60,270.36 L259.10,270.11 L259.60,269.85 L260.10,269.58 L260.60,269.30 L261.10,269.01 L261.60,268.72 L262.10,268.42 L262.60,268.11 L263.10,267.79 L263.60,267.46 L264.10,267.13 L264.60,266.78 L265.10,266.43 L265.60,266.06 L266.10,265.69 L266.60,265.30 L267.10,264.91 L267.60,264.50 L268.10,264.09 L268.60,263.66 L269.10,263.23 L269.60,262.78 L270.10,262.32 L270.60,261.86 L271.10,261.38 L271.60,260.89 L272.10,260.38 L272.60,259.87 L273.10,259.35 L273.60,258.81 L274.10,258.26 L274.60,257.70 L275.10,257.13 L275.60,256.55 L276.10,255.95 L276.60,255.34 L277.10,254.72 L277.60,254.09 L278.10,253.45 L278.60,252.80 L279.10,252.13 L279.60,251.45 L280.10,250.76 L280.60,250.06 L281.10,249.35 L281.60,248.63 L282.10,247.90 L282.60,247.15 L283.10,246.40 L283.60,245.64 L284.10,244.86 L284.60,244.08 L285.10,243.28 L285.60,242.48 L286.10,241.67 L286.60,240.85 L287.10,240.02 L287.60,239.18 L288.10,238.34 L288.60,237.49 L289.10,236.63 L289.60,235.77 L290.10,234.90 L290.60,234.03 L291.10,233.15 L291.60,232.27 L292.10,231.38 L292.60,230.49 L293.10,229.60 L293.60,228.70 L294.10,227.81 L294.60,226.91 L295.10,226.01 L295.60,225.11 L296.10,224.21 L296.60,223.31 L297.10,222.42 L297.60,221.52 L298.10,220.63 L298.60,219.74 L299.10,218.86 L299.60,217.97 L300.10,217.10 L300.60,216.22 L301.10,215.36 L301.60,214.49 L302.10,213.64 L302.60,212.79 L303.10,211.95 L303.60,211.11 L304.10,210.29 L304.60,209.47 L305.10,208.66 L305.60,207.86 L306.10,207.07 L306.60,206.28 L307.10,205.51 L307.60,204.75 L308.10,204.00 L308.60,203.25 L309.10,202.52 L309.60,201.80 L310.10,201.09 L310.60,200.40 L311.10,199.71 L311.60,199.04 L312.10,198.37 L312.60,197.72 L313.10,197.08 L313.60,196.45 L314.10,195.83 L314.60,195.23 L315.10,194.64 L315.60,194.06 L316.10,193.49 L316.60,192.93 L317.10,192.38 L317.60,191.85 L318.10,191.33 L318.60,190.81 L319.10,190.31 L319.60,189.83 L320.10,189.35 L320.60,188.88 L321.10,188.43 L321.60,187.98 L322.10,187.55 L322.60,187.13 L323.10,186.71 L323.60,186.31 L324.10,185.92 L324.60,185.54 L325.10,185.17 L325.60,184.80 L326.10,184.45 L326.60,184.11 L327.10,183.77 L327.60,183.45 L328.10,183.13 L328.60,182.82 L329.10,182.52 L329.60,182.23 L330.10,181.95 L330.60,181.67 L331.10,181.40 L331.60,181.14 L332.10,180.89 L332.60,180.64 L333.10,180.40 L333.60,180.17 L334.10,179.95 L334.60,179.73 L335.10,179.52 L335.60,179.31 L336.10,179.11 L336.60,178.92 L337.10,178.73 L337.60,178.55 L338.10,178.37 L338.60,178.20 L339.10,178.03 L339.60,177.87 L340.10,177.72 L340.60,177.56 L341.10,177.42 L341.60,177.28 L342.10,177.14 L342.60,177.00 L343.10,176.87 L343.60,176.75 L344.10,176.63 L344.60,176.51 L345.10,176.40 L345.60,176.29 L346.10,176.18 L346.60,176.07 L347.10,175.97" fill="none" stroke="#808080" stroke-width="1.2" />
<path d="M212.30,275.97 L212.80,275.90 L213.30,275.82 L213.80,275.74 L214.30,275.66 L214.80,275.57 L215.30,275.49 L215.80,275.40 L216.30,275.30 L216.80,275.21 L217.30,275.11 L217.80,275.01 L218.30,274.90 L218.80,274.79 L219.30,274.68 L219.80,274.57 L220.30,274.45 L220.80,274.33 L221.30,274.20 L221.80,274.07 L222.30,273.94 L222.80,273.80 L223.30,273.66 L223.80,273.51 L224.30,273.36 L224.80,273.21 L225.30,273.05 L225.80,272.89 L226.30,272.72 L226.80,272.54 L227.30,272.37 L227.80,272.18 L228.30,271.99 L228.80,271.80 L229.30,271.60 L229.80,271.39 L230.30,271.18 L230.80,270.96 L231.30,270.74 L231.80,270.51 L232.30,270.27 L232.80,270.02 L233.30,269.77 L233.80,269.52 L234.30,269.25 L234.80,268.98 L235.30,268.70 L235.80,268.42 L236.30,268.12 L236.80,267.82 L237.30,267.51 L237.80,267.19 L238.30,266.87 L238.80,266.53 L239.30,266.19 L239.80,265.84 L240.30,265.48 L240.80,265.11 L241.30,264.73 L241.80,264.34 L242.30,263.95 L242.80,263.54 L243.30,263.12 L243.80,262.70 L244.30,262.26 L244.80,261.82 L245.30,261.36 L245.80,260.90 L246.30,260.42 L246.80,259.94 L247.30,259.44 L247.80,258.93 L248.30,258.42 L248.80,257.89 L249.30,257.35 L249.80,256.80 L250.30,256.24 L250.80,255.67 L251.30,255.09 L251.80,254.50 L252.30,253.90 L252.80,253.28 L253.30,252.66 L253.80,252.03 L254.30,251.38 L254.80,250.73 L255.30,250.07 L255.80,249.39 L256.30,248.71 L256.80,248.01 L257.30,247.31 L257.80,246.60 L258.30,245.87 L258.80,245.14 L259.30,244.40 L259.80,243.65 L260.30,242.90 L260.80,242.13 L261.30,241.36 L261.80,240.58 L262.30,239.79 L262.80,239.00 L263.30,238.19 L263.80,237.39 L264.30,236.57 L264.80,235.76 L265.30,234.93 L265.80,234.10 L266.30,233.27 L266.80,232.43 L267.30,231.59 L267.80,230.75 L268.30,229.90 L268.80,229.06 L269.30,228.21 L269.80,227.35 L270.30,226.50 L270.80,225.65 L271.30,224.80 L271.80,223.95 L272.30,223.09 L272.80,222.24 L273.30,221.40 L273.80,220.55 L274.30,219.71 L274.80,218.87 L275.30,218.03 L275.80,217.20 L276.30,216.37 L276.80,215.54 L277.30,214.73 L277.80,213.91 L278.30,213.11 L278.80,212.30 L279.30,211.51 L279.80,210.72 L280.30,209.94 L280.80,209.17 L281.30,208.40 L281.80,207.65 L282.30,206.90 L282.80,206.16 L283.30,205.43 L283.80,204.70 L284.30,203.99 L284.80,203.29 L285.30,202.59 L285.80,201.91 L286.30,201.23 L286.80,200.57 L287.30,199.92 L287.80,199.27 L288.30,198.64 L288.80,198.02 L289.30,197.40 L289.80,196.80 L290.30,196.21 L290.80,195.63 L291.30,195.06 L291.80,194.50 L292.30,193.95 L292.80,193.41 L293.30,192.88 L293.80,192.37 L294.30,191.86 L294.80,191.36 L295.30,190.88 L295.80,190.40 L296.30,189.94 L296.80,189.48 L297.30,189.04 L297.80,188.60 L298.30,188.18 L298.80,187.76 L299.30,187.35 L299.80,186.96 L300.30,186.57 L300.80,186.19 L301.30,185.82 L301.80,185.46 L302.30,185.11 L302.80,184.77 L303.30,184.43 L303.80,184.11 L304.30,183.79 L304.80,183.48 L305.30,183.18 L305.80,182.88 L306.30,182.60 L306.80,182.32 L307.30,182.05 L307.80,181.78 L308.30,181.53 L308.80,181.28 L309.30,181.03 L309.80,180.79 L310.30,180.56 L310.80,180.34 L311.30,180.12 L311.80,179.91 L312.30,179.70 L312.80,179.50 L313.30,179.31 L313.80,179.12 L314.30,178.93 L314.80,178.76 L315.30,178.58 L315.80,178.41 L316.30,178.25 L316.80,178.09 L317.30,177.94 L317.80,177.79 L318.30,177.64 L318.80,177.50 L319.30,177.36 L319.80,177.23 L320.30,177.10 L320.80,176.97 L321.30,176.85 L321.80,176.73 L322.30,176.62 L322.80,176.51 L323.30,176.40 L323.80,176.29 L324.30,176.19 L324.80,176.09 L325.30,176.00 L325.80,175.90 L326.30,175.81 L326.80,175.73 L327.30,175.64 L327.80,175.56 L328.30,175.48 L328.80,175.40 L329.30,175.33 L329.80,175.25 L330.30,175.18 L330.80,175.12 L331.30,175.05 L331.80,174.99 L332.30,174.92 L332.80,174.86 L333.30,174.81 L333.80,174.75 L334.30,174.69 L334.80,174.64 L335.30,174.59 L335.80,174.54 L336.30,174.49 L336.80,174.44 L337.30,174.40 L337.80,174.35" fill="none" stroke="#e0121c" stroke-width="1.2" />
<path d="M212.30,275.13 L212.80,275.02 L213.30,274.91 L213.80,274.79 L214.30,274.67 L214.80,274.55 L215.30,274.42 L215.80,274.29 L216.30,274.16 L216.80,274.02 L217.30,273.87 L217.80,273.72 L218.30,273.57 L218.80,273.41 L219.30,273.25 L219.80,273.08 L220.30,272.91 L220.80,272.73 L221.30,272.54 L221.80,272.35 L222.30,272.15 L222.80,271.95 L223.30,271.74 L223.80,271.53 L224.30,271.31 L224.80,271.08 L225.30,270.84 L225.80,270.60 L226.30,270.35 L226.80,270.09 L227.30,269.83 L227.80,269.55 L228.30,269.27 L228.80,268.98 L229.30,268.69 L229.80,268.38 L230.30,268.07 L230.80,267.74 L231.30,267.41 L231.80,267.07 L232.30,266.72 L232.80,266.36 L233.30,265.99 L233.80,265.61 L234.30,265.22 L234.80,264.82 L235.30,264.41 L235.80,263.99 L236.30,263.55 L236.80,263.11 L237.30,262.66 L237.80,262.19 L238.30,261.71 L238.80,261.23 L239.30,260.73 L239.80,260.22 L240.30,259.69 L240.80,259.16 L241.30,258.61 L241.80,258.05 L242.30,257.48 L242.80,256.90 L243.30,256.31 L243.80,255.70 L244.30,255.08 L244.80,254.45 L245.30,253.81 L245.80,253.16 L246.30,252.49 L246.80,251.81 L247.30,251.12 L247.80,250.42 L248.30,249.71 L248.80,248.98 L249.30,248.25 L249.80,247.50 L250.30,246.74 L250.80,245.98 L251.30,245.20 L251.80,244.41 L252.30,243.61 L252.80,242.80 L253.30,241.99 L253.80,241.16 L254.30,240.33 L254.80,239.49 L255.30,238.64 L255.80,237.78 L256.30,236.92 L256.80,236.05 L257.30,235.17 L257.80,234.29 L258.30,233.40 L258.80,232.51 L259.30,231.62 L259.80,230.72 L260.30,229.82 L260.80,228.92 L261.30,228.01 L261.80,227.10 L262.30,226.19 L262.80,225.29 L263.30,224.38 L263.80,223.47 L264.30,222.57 L264.80,221.66 L265.30,220.76 L265.80,219.86 L266.30,218.96 L266.80,218.07 L267.30,217.19 L267.80,216.30 L268.30,215.43 L268.80,214.56 L269.30,213.69 L269.80,212.83 L270.30,211.98 L270.80,211.14 L271.30,210.30 L271.80,209.48 L272.30,208.66 L272.80,207.85 L273.30,207.05 L273.80,206.26 L274.30,205.48 L274.80,204.71 L275.30,203.95 L275.80,203.20 L276.30,202.46 L276.80,201.74 L277.30,201.02 L277.80,200.32 L278.30,199.63 L278.80,198.95 L279.30,198.28 L279.80,197.62 L280.30,196.98 L280.80,196.34 L281.30,195.72 L281.80,195.11 L282.30,194.52 L282.80,193.93 L283.30,193.36 L283.80,192.80 L284.30,192.25 L284.80,191.71 L285.30,191.19 L285.80,190.67 L286.30,190.17 L286.80,189.68 L287.30,189.20 L287.80,188.74 L288.30,188.28 L288.80,187.83 L289.30,187.40 L289.80,186.98 L290.30,186.56 L290.80,186.16 L291.30,185.77 L291.80,185.39 L292.30,185.01 L292.80,184.65 L293.30,184.30 L293.80,183.96 L294.30,183.62 L294.80,183.30 L295.30,182.98 L295.80,182.67 L296.30,182.37 L296.80,182.08 L297.30,181.80 L297.80,181.53 L298.30,181.26 L298.80,181.00 L299.30,180.75 L299.80,180.51 L300.30,180.27 L300.80,180.04 L301.30,179.82 L301.80,179.60 L302.30,179.39 L302.80,179.19 L303.30,178.99 L303.80,178.80 L304.30,178.61 L304.80,178.43 L305.30,178.25 L305.80,178.08 L306.30,177.92 L306.80,177.76 L307.30,177.61 L307.80,177.46 L308.30,177.31 L308.80,177.17 L309.30,177.04 L309.80,176.90 L310.30,176.78 L310.80,176.65 L311.30,176.53 L311.80,176.42 L312.30,176.30 L312.80,176.20 L313.30,176.09 L313.80,175.99 L314.30,175.89 L314.80,175.79 L315.30,175.70 L315.80,175.61 L316.30,175.53 L316.80,175.44 L317.30,175.36 L317.80,175.28 L318.30,175.21 L318.80,175.13 L319.30,175.06 L319.80,174.99 L320.30,174.93 L320.80,174.86 L321.30,174.80 L321.80,174.74 L322.30,174.68 L322.80,174.63 L323.30,174.57 L323.80,174.52 L324.30,174.47 L324.80,174.42 L325.30,174.37 L325.80,174.33 L326.30,174.28 L326.80,174.24 L327.30,174.20" fill="none" stroke="#7d1e1e" stroke-width="1.2" />
<line x1="262.40" y1="262.20" x2="262.40" y2="268.80" stroke="#808080" stroke-width="0.85" />
<line x1="260.80" y1="262.20" x2="264.00" y2="262.20" stroke="#808080" stroke-width="0.85" />
<line x1="260.80" y1="268.80" x2="264.00" y2="268.80" stroke="#808080" stroke-width="0.85" />
<circle cx="262.40" cy="265.50" r="2.05" fill="#fff" stroke="#808080" stroke-width="1.0"/>
<line x1="272.10" y1="254.50" x2="272.10" y2="260.50" stroke="#808080" stroke-width="0.85" />
<line x1="270.50" y1="254.50" x2="273.70" y2="254.50" stroke="#808080" stroke-width="0.85" />
<line x1="270.50" y1="260.50" x2="273.70" y2="260.50" stroke="#808080" stroke-width="0.85" />
<circle cx="272.10" cy="257.50" r="2.05" fill="#fff" stroke="#808080" stroke-width="1.0"/>
<line x1="284.90" y1="240.70" x2="284.90" y2="246.70" stroke="#808080" stroke-width="0.85" />
<line x1="283.30" y1="240.70" x2="286.50" y2="240.70" stroke="#808080" stroke-width="0.85" />
<line x1="283.30" y1="246.70" x2="286.50" y2="246.70" stroke="#808080" stroke-width="0.85" />
<circle cx="284.90" cy="243.70" r="2.05" fill="#fff" stroke="#808080" stroke-width="1.0"/>
<line x1="295.40" y1="223.60" x2="295.40" y2="232.00" stroke="#808080" stroke-width="0.85" />
<line x1="293.80" y1="223.60" x2="297.00" y2="223.60" stroke="#808080" stroke-width="0.85" />
<line x1="293.80" y1="232.00" x2="297.00" y2="232.00" stroke="#808080" stroke-width="0.85" />
<circle cx="295.40" cy="227.80" r="2.05" fill="#fff" stroke="#808080" stroke-width="1.0"/>
<line x1="304.90" y1="205.00" x2="304.90" y2="211.00" stroke="#808080" stroke-width="0.85" />
<line x1="303.30" y1="205.00" x2="306.50" y2="205.00" stroke="#808080" stroke-width="0.85" />
<line x1="303.30" y1="211.00" x2="306.50" y2="211.00" stroke="#808080" stroke-width="0.85" />
<circle cx="304.90" cy="208.00" r="2.05" fill="#fff" stroke="#808080" stroke-width="1.0"/>
<line x1="318.00" y1="186.70" x2="318.00" y2="193.90" stroke="#808080" stroke-width="0.85" />
<line x1="316.40" y1="186.70" x2="319.60" y2="186.70" stroke="#808080" stroke-width="0.85" />
<line x1="316.40" y1="193.90" x2="319.60" y2="193.90" stroke="#808080" stroke-width="0.85" />
<circle cx="318.00" cy="190.30" r="2.05" fill="#fff" stroke="#808080" stroke-width="1.0"/>
<line x1="327.70" y1="181.30" x2="327.70" y2="183.70" stroke="#808080" stroke-width="0.85" />
<line x1="326.10" y1="181.30" x2="329.30" y2="181.30" stroke="#808080" stroke-width="0.85" />
<line x1="326.10" y1="183.70" x2="329.30" y2="183.70" stroke="#808080" stroke-width="0.85" />
<rect x="325.45" y="180.25" width="4.50" height="4.50" fill="#fff" stroke="#808080" stroke-width="1.1"/>
<line x1="252.50" y1="267.50" x2="252.50" y2="271.50" stroke="#f08a8a" stroke-width="0.85" />
<line x1="250.90" y1="267.50" x2="254.10" y2="267.50" stroke="#f08a8a" stroke-width="0.85" />
<line x1="250.90" y1="271.50" x2="254.10" y2="271.50" stroke="#f08a8a" stroke-width="0.85" />
<circle cx="252.50" cy="269.50" r="2.05" fill="#fff" stroke="#f08a8a" stroke-width="1.0"/>
<line x1="262.40" y1="254.00" x2="262.40" y2="260.80" stroke="#f08a8a" stroke-width="0.85" />
<line x1="260.80" y1="254.00" x2="264.00" y2="254.00" stroke="#f08a8a" stroke-width="0.85" />
<line x1="260.80" y1="260.80" x2="264.00" y2="260.80" stroke="#f08a8a" stroke-width="0.85" />
<circle cx="262.40" cy="257.40" r="2.05" fill="#fff" stroke="#f08a8a" stroke-width="1.0"/>
<line x1="272.10" y1="240.20" x2="272.10" y2="247.20" stroke="#f08a8a" stroke-width="0.85" />
<line x1="270.50" y1="240.20" x2="273.70" y2="240.20" stroke="#f08a8a" stroke-width="0.85" />
<line x1="270.50" y1="247.20" x2="273.70" y2="247.20" stroke="#f08a8a" stroke-width="0.85" />
<circle cx="272.10" cy="243.70" r="2.05" fill="#fff" stroke="#f08a8a" stroke-width="1.0"/>
<line x1="285.30" y1="220.10" x2="285.30" y2="239.70" stroke="#f08a8a" stroke-width="0.85" />
<line x1="283.70" y1="220.10" x2="286.90" y2="220.10" stroke="#f08a8a" stroke-width="0.85" />
<line x1="283.70" y1="239.70" x2="286.90" y2="239.70" stroke="#f08a8a" stroke-width="0.85" />
<circle cx="285.30" cy="229.90" r="2.05" fill="#fff" stroke="#f08a8a" stroke-width="1.0"/>
<line x1="295.40" y1="212.50" x2="295.40" y2="224.30" stroke="#f08a8a" stroke-width="0.85" />
<line x1="293.80" y1="212.50" x2="297.00" y2="212.50" stroke="#f08a8a" stroke-width="0.85" />
<line x1="293.80" y1="224.30" x2="297.00" y2="224.30" stroke="#f08a8a" stroke-width="0.85" />
<circle cx="295.40" cy="218.40" r="2.05" fill="#fff" stroke="#f08a8a" stroke-width="1.0"/>
<line x1="304.90" y1="198.30" x2="304.90" y2="207.30" stroke="#f08a8a" stroke-width="0.85" />
<line x1="303.30" y1="198.30" x2="306.50" y2="198.30" stroke="#f08a8a" stroke-width="0.85" />
<line x1="303.30" y1="207.30" x2="306.50" y2="207.30" stroke="#f08a8a" stroke-width="0.85" />
<circle cx="304.90" cy="202.80" r="2.05" fill="#fff" stroke="#f08a8a" stroke-width="1.0"/>
<line x1="318.00" y1="179.50" x2="318.00" y2="186.70" stroke="#f08a8a" stroke-width="0.85" />
<line x1="316.40" y1="179.50" x2="319.60" y2="179.50" stroke="#f08a8a" stroke-width="0.85" />
<line x1="316.40" y1="186.70" x2="319.60" y2="186.70" stroke="#f08a8a" stroke-width="0.85" />
<circle cx="318.00" cy="183.10" r="2.05" fill="#fff" stroke="#f08a8a" stroke-width="1.0"/>
<line x1="239.70" y1="261.90" x2="239.70" y2="267.90" stroke="#e0121c" stroke-width="0.85" />
<line x1="238.10" y1="261.90" x2="241.30" y2="261.90" stroke="#e0121c" stroke-width="0.85" />
<line x1="238.10" y1="267.90" x2="241.30" y2="267.90" stroke="#e0121c" stroke-width="0.85" />
<path d="M239.70,262.64 L241.95,266.59 L237.44,266.59Z" fill="#fff" stroke="#e0121c" stroke-width="1.0"/>
<line x1="252.50" y1="250.40" x2="252.50" y2="258.40" stroke="#e0121c" stroke-width="0.85" />
<line x1="250.90" y1="250.40" x2="254.10" y2="250.40" stroke="#e0121c" stroke-width="0.85" />
<line x1="250.90" y1="258.40" x2="254.10" y2="258.40" stroke="#e0121c" stroke-width="0.85" />
<path d="M252.50,252.15 L254.75,256.09 L250.25,256.09Z" fill="#fff" stroke="#e0121c" stroke-width="1.0"/>
<line x1="263.00" y1="240.20" x2="263.00" y2="246.20" stroke="#e0121c" stroke-width="0.85" />
<line x1="261.40" y1="240.20" x2="264.60" y2="240.20" stroke="#e0121c" stroke-width="0.85" />
<line x1="261.40" y1="246.20" x2="264.60" y2="246.20" stroke="#e0121c" stroke-width="0.85" />
<path d="M263.00,240.94 L265.25,244.89 L260.75,244.89Z" fill="#fff" stroke="#e0121c" stroke-width="1.0"/>
<line x1="271.80" y1="212.80" x2="271.80" y2="227.80" stroke="#e0121c" stroke-width="0.85" />
<line x1="270.20" y1="212.80" x2="273.40" y2="212.80" stroke="#e0121c" stroke-width="0.85" />
<line x1="270.20" y1="227.80" x2="273.40" y2="227.80" stroke="#e0121c" stroke-width="0.85" />
<path d="M271.80,218.05 L274.06,221.99 L269.55,221.99Z" fill="#fff" stroke="#e0121c" stroke-width="1.0"/>
<line x1="285.30" y1="200.80" x2="285.30" y2="210.60" stroke="#e0121c" stroke-width="0.85" />
<line x1="283.70" y1="200.80" x2="286.90" y2="200.80" stroke="#e0121c" stroke-width="0.85" />
<line x1="283.70" y1="210.60" x2="286.90" y2="210.60" stroke="#e0121c" stroke-width="0.85" />
<path d="M285.30,203.44 L287.56,207.39 L283.05,207.39Z" fill="#fff" stroke="#e0121c" stroke-width="1.0"/>
<line x1="295.30" y1="189.80" x2="295.30" y2="194.80" stroke="#e0121c" stroke-width="0.85" />
<line x1="293.70" y1="189.80" x2="296.90" y2="189.80" stroke="#e0121c" stroke-width="0.85" />
<line x1="293.70" y1="194.80" x2="296.90" y2="194.80" stroke="#e0121c" stroke-width="0.85" />
<path d="M295.30,190.05 L297.56,193.99 L293.05,193.99Z" fill="#fff" stroke="#e0121c" stroke-width="1.0"/>
<line x1="304.90" y1="175.20" x2="304.90" y2="181.80" stroke="#e0121c" stroke-width="0.85" />
<line x1="303.30" y1="175.20" x2="306.50" y2="175.20" stroke="#e0121c" stroke-width="0.85" />
<line x1="303.30" y1="181.80" x2="306.50" y2="181.80" stroke="#e0121c" stroke-width="0.85" />
<path d="M304.90,176.25 L307.15,180.19 L302.64,180.19Z" fill="#fff" stroke="#e0121c" stroke-width="1.0"/>
<line x1="229.60" y1="267.50" x2="229.60" y2="271.50" stroke="#7d1e1e" stroke-width="0.85" />
<line x1="228.00" y1="267.50" x2="231.20" y2="267.50" stroke="#7d1e1e" stroke-width="0.85" />
<line x1="228.00" y1="271.50" x2="231.20" y2="271.50" stroke="#7d1e1e" stroke-width="0.85" />
<path d="M229.60,267.20 L231.90,269.50 L229.60,271.80 L227.30,269.50Z" fill="#fff" stroke="#7d1e1e" stroke-width="1.0"/>
<line x1="239.70" y1="255.30" x2="239.70" y2="262.70" stroke="#7d1e1e" stroke-width="0.85" />
<line x1="238.10" y1="255.30" x2="241.30" y2="255.30" stroke="#7d1e1e" stroke-width="0.85" />
<line x1="238.10" y1="262.70" x2="241.30" y2="262.70" stroke="#7d1e1e" stroke-width="0.85" />
<path d="M239.70,256.70 L242.00,259.00 L239.70,261.30 L237.40,259.00Z" fill="#fff" stroke="#7d1e1e" stroke-width="1.0"/>
<line x1="252.50" y1="243.50" x2="252.50" y2="249.50" stroke="#7d1e1e" stroke-width="0.85" />
<line x1="250.90" y1="243.50" x2="254.10" y2="243.50" stroke="#7d1e1e" stroke-width="0.85" />
<line x1="250.90" y1="249.50" x2="254.10" y2="249.50" stroke="#7d1e1e" stroke-width="0.85" />
<path d="M252.50,244.20 L254.80,246.50 L252.50,248.80 L250.20,246.50Z" fill="#fff" stroke="#7d1e1e" stroke-width="1.0"/>
<line x1="262.70" y1="217.10" x2="262.70" y2="231.50" stroke="#7d1e1e" stroke-width="0.85" />
<line x1="261.10" y1="217.10" x2="264.30" y2="217.10" stroke="#7d1e1e" stroke-width="0.85" />
<line x1="261.10" y1="231.50" x2="264.30" y2="231.50" stroke="#7d1e1e" stroke-width="0.85" />
<path d="M262.70,222.00 L265.00,224.30 L262.70,226.60 L260.40,224.30Z" fill="#fff" stroke="#7d1e1e" stroke-width="1.0"/>
<line x1="271.80" y1="202.60" x2="271.80" y2="210.60" stroke="#7d1e1e" stroke-width="0.85" />
<line x1="270.20" y1="202.60" x2="273.40" y2="202.60" stroke="#7d1e1e" stroke-width="0.85" />
<line x1="270.20" y1="210.60" x2="273.40" y2="210.60" stroke="#7d1e1e" stroke-width="0.85" />
<path d="M271.80,204.30 L274.10,206.60 L271.80,208.90 L269.50,206.60Z" fill="#fff" stroke="#7d1e1e" stroke-width="1.0"/>
<line x1="284.90" y1="191.80" x2="284.90" y2="197.60" stroke="#7d1e1e" stroke-width="0.85" />
<line x1="283.30" y1="191.80" x2="286.50" y2="191.80" stroke="#7d1e1e" stroke-width="0.85" />
<line x1="283.30" y1="197.60" x2="286.50" y2="197.60" stroke="#7d1e1e" stroke-width="0.85" />
<path d="M284.90,192.40 L287.20,194.70 L284.90,197.00 L282.60,194.70Z" fill="#fff" stroke="#7d1e1e" stroke-width="1.0"/>
<line x1="294.90" y1="176.30" x2="294.90" y2="184.70" stroke="#7d1e1e" stroke-width="0.85" />
<line x1="293.30" y1="176.30" x2="296.50" y2="176.30" stroke="#7d1e1e" stroke-width="0.85" />
<line x1="293.30" y1="184.70" x2="296.50" y2="184.70" stroke="#7d1e1e" stroke-width="0.85" />
<path d="M294.90,178.20 L297.20,180.50 L294.90,182.80 L292.60,180.50Z" fill="#fff" stroke="#7d1e1e" stroke-width="1.0"/>
<text x="355.3" y="165.7" font-size="15.2" fill="#000" style="stroke-width:0.3">F</text>
<line x1="403.80" y1="172.40" x2="403.80" y2="277.50" stroke="#333" stroke-width="1" />
<line x1="401.80" y1="172.80" x2="403.80" y2="172.80" stroke="#333" stroke-width="1" />
<line x1="400.20" y1="187.80" x2="403.80" y2="187.80" stroke="#333" stroke-width="1" />
<text x="399.00" y="190.30" font-size="7.2" text-anchor="end" fill="#111" >-9.5</text>
<line x1="401.80" y1="202.80" x2="403.80" y2="202.80" stroke="#333" stroke-width="1" />
<line x1="400.20" y1="217.80" x2="403.80" y2="217.80" stroke="#333" stroke-width="1" />
<text x="399.00" y="220.30" font-size="7.2" text-anchor="end" fill="#111" >-10.0</text>
<line x1="401.80" y1="232.80" x2="403.80" y2="232.80" stroke="#333" stroke-width="1" />
<line x1="400.20" y1="247.80" x2="403.80" y2="247.80" stroke="#333" stroke-width="1" />
<text x="399.00" y="250.30" font-size="7.2" text-anchor="end" fill="#111" >-10.5</text>
<line x1="401.80" y1="262.80" x2="403.80" y2="262.80" stroke="#333" stroke-width="1" />
<line x1="400.20" y1="277.80" x2="403.80" y2="277.80" stroke="#333" stroke-width="1" />
<text x="399.00" y="280.30" font-size="7.2" text-anchor="end" fill="#111" >-11.0</text>
<line x1="401.30" y1="277.50" x2="493.80" y2="277.50" stroke="#333" stroke-width="1" />
<line x1="415.60" y1="277.50" x2="415.60" y2="281.20" stroke="#333" stroke-width="1" />
<text x="415.60" y="291.30" font-size="7.2" text-anchor="middle" fill="#111" >0</text>
<line x1="438.07" y1="277.50" x2="438.07" y2="281.20" stroke="#333" stroke-width="1" />
<text x="438.07" y="291.30" font-size="7.2" text-anchor="middle" fill="#111" >1</text>
<line x1="460.54" y1="277.50" x2="460.54" y2="281.20" stroke="#333" stroke-width="1" />
<text x="460.54" y="291.30" font-size="7.2" text-anchor="middle" fill="#111" >2</text>
<line x1="483.01" y1="277.50" x2="483.01" y2="281.20" stroke="#333" stroke-width="1" />
<text x="483.01" y="291.30" font-size="7.2" text-anchor="middle" fill="#111" >3</text>
<text x="445.8" y="299.3" font-size="8.2" fill="#111">n<tspan font-size="6.4" dy="2.2">F</tspan></text>
<text x="0" y="0" font-size="7.2" text-anchor="middle" fill="#111" transform="translate(376.8,223.3) rotate(-90)" style="font-size:8.1px">ΔG<tspan font-size="5.6" dy="2">i</tspan><tspan dy="-2">&#160;(kcal/mol)</tspan></text>
<line x1="409.80" y1="177.30" x2="488.50" y2="272.80" stroke="#3a8c92" stroke-width="1.2" stroke-dasharray="2.4,1.7"/>
<circle cx="415.50" cy="185.70" r="2.1" fill="#fff" stroke="#2e717a" stroke-width="1.05"/>
<path d="M415.50,176.31 L418.19,179.00 L415.50,181.69 L412.81,179.00Z" fill="#fff" stroke="#a4c92c" stroke-width="1.05"/>
<line x1="438.20" y1="199.50" x2="438.20" y2="205.50" stroke="#2e717a" stroke-width="0.8" />
<line x1="436.90" y1="199.50" x2="439.50" y2="199.50" stroke="#2e717a" stroke-width="0.8" />
<line x1="436.90" y1="205.50" x2="439.50" y2="205.50" stroke="#2e717a" stroke-width="0.8" />
<circle cx="438.20" cy="202.50" r="2.1" fill="#fff" stroke="#2e717a" stroke-width="1.05"/>
<line x1="460.60" y1="242.90" x2="460.60" y2="245.90" stroke="#2e717a" stroke-width="0.8" />
<line x1="459.30" y1="242.90" x2="461.90" y2="242.90" stroke="#2e717a" stroke-width="0.8" />
<line x1="459.30" y1="245.90" x2="461.90" y2="245.90" stroke="#2e717a" stroke-width="0.8" />
<circle cx="460.60" cy="244.40" r="2.1" fill="#fff" stroke="#2e717a" stroke-width="1.05"/>
<circle cx="483.00" cy="265.60" r="2.1" fill="#fff" stroke="#2e717a" stroke-width="1.05"/>
</svg></body></html>
